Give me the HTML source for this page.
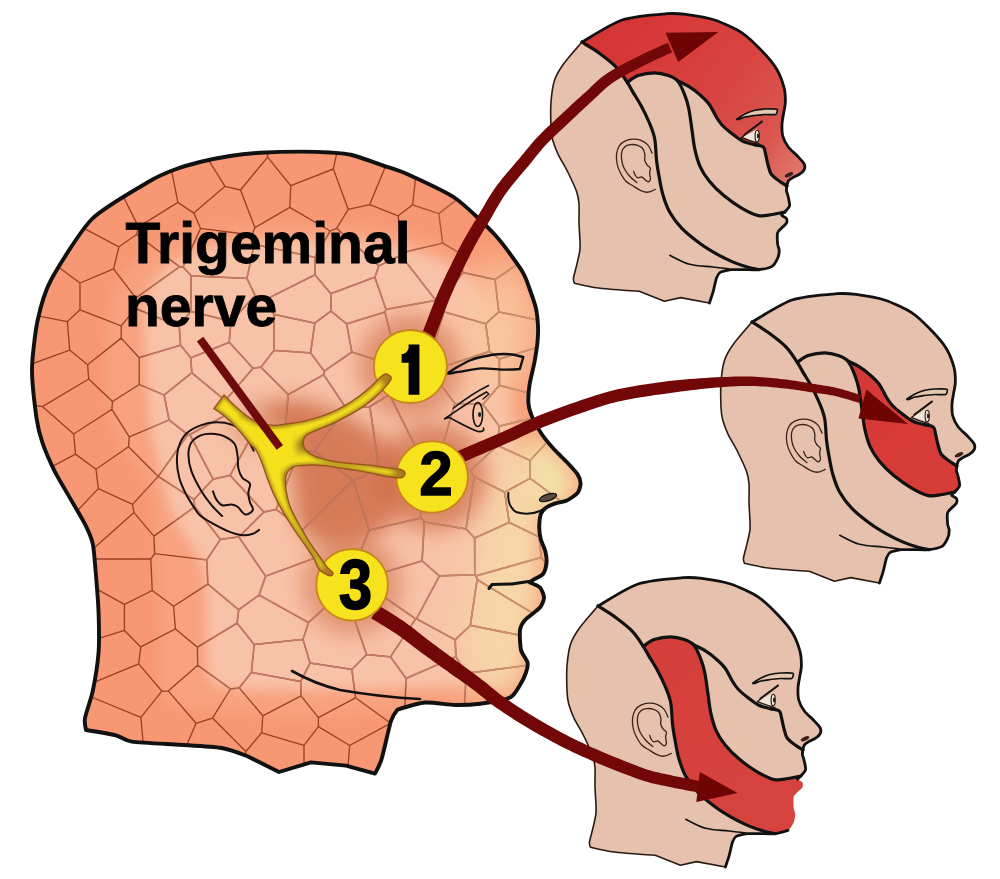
<!DOCTYPE html>
<html><head><meta charset="utf-8"><style>
html,body{margin:0;padding:0;background:#fff;}
svg{display:block;}
</style></head><body>
<svg width="1000" height="879" viewBox="0 0 1000 879">
<defs>
<clipPath id="hc"><path d="M150.0,181.0C159.7,175.2 169.2,171.7 175.0,169.5C180.8,167.3 193.6,163.6 200.0,162.0C206.4,160.4 223.0,157.1 230.0,156.0C237.0,154.9 251.8,153.3 260.0,152.8C268.2,152.3 291.8,151.6 300.0,151.6C308.2,151.6 323.9,152.1 330.0,152.5C336.1,152.9 345.7,153.4 352.0,155.0C358.3,156.6 377.6,163.6 384.0,165.8C390.4,168.0 398.7,170.2 407.0,174.0C415.3,177.8 444.6,190.8 455.0,198.0C465.4,205.2 488.2,227.5 496.0,236.0C503.8,244.5 518.0,264.7 522.0,271.0C526.0,277.3 528.4,285.6 530.0,290.0C531.6,294.4 535.1,304.5 536.0,308.7C536.9,312.9 537.8,322.1 538.0,326.0C538.2,329.9 537.9,337.8 537.5,342.0C537.1,346.2 535.4,357.0 534.5,362.0C533.6,367.0 530.2,380.1 529.5,385.0C528.8,389.9 528.1,400.0 528.5,404.0C528.9,408.0 531.4,415.4 533.0,419.0C534.6,422.6 539.5,430.9 542.0,434.5C544.5,438.1 551.6,446.6 554.5,449.8C557.4,453.0 564.1,459.1 566.8,462.0C569.5,464.9 576.0,471.9 577.6,474.4C579.2,476.9 580.6,481.4 580.6,483.6C580.6,485.8 579.2,490.9 577.6,492.9C576.0,494.9 569.5,499.3 566.8,500.5C564.1,501.7 557.0,502.7 554.5,503.6C552.0,504.5 546.9,506.9 545.3,508.2C543.7,509.5 541.4,512.2 540.7,514.4C540.0,516.6 539.2,523.8 539.2,526.7C539.2,529.6 540.0,536.0 540.7,538.9C541.4,541.8 544.6,548.4 545.3,551.2C546.0,554.0 546.8,560.3 546.5,563.0C546.2,565.7 544.6,572.0 543.0,574.0C541.4,576.0 534.5,579.0 533.0,580.0C531.5,581.0 530.0,582.5 530.0,582.5C530.0,582.5 538.4,585.8 540.0,587.5C541.6,589.2 544.0,595.2 544.0,597.5C544.0,599.8 542.2,604.9 540.0,607.5C537.8,610.1 527.3,617.4 525.0,620.0C522.7,622.6 520.5,626.5 520.0,630.0C519.5,633.5 520.1,646.2 521.0,650.0C521.9,653.8 526.9,659.9 527.5,662.5C528.1,665.1 526.9,669.9 526.0,672.5C525.1,675.1 521.9,682.1 520.0,685.0C518.1,687.9 514.7,695.3 510.0,697.5C505.3,699.7 486.4,702.9 480.0,703.8C473.6,704.6 461.4,705.1 455.0,705.0C448.6,704.9 431.7,702.0 425.0,702.5C418.3,703.0 397.6,709.6 397.6,709.6C397.6,709.6 392.9,715.2 391.0,721.0C389.1,726.8 383.5,752.9 381.6,759.0C379.7,765.1 375.0,773.6 375.0,773.6C375.0,773.6 346.0,765.6 346.0,765.6C346.0,765.6 311.0,762.4 311.0,762.4C311.0,762.4 279.0,772.0 279.0,772.0C279.0,772.0 247.0,756.0 247.0,756.0C247.0,756.0 229.4,749.3 221.6,748.0C213.8,746.7 190.5,745.5 180.0,744.8C169.5,744.1 139.5,742.7 132.0,741.6C124.5,740.5 121.4,736.7 116.0,735.3C110.6,733.9 86.0,730.0 86.0,730.0C86.0,730.0 84.2,722.6 85.0,718.0C85.8,713.4 91.2,698.5 92.8,690.8C94.4,683.1 97.9,661.0 98.6,652.0C99.3,643.0 98.9,622.4 98.6,613.4C98.3,604.4 96.6,582.8 95.9,574.7C95.2,566.6 94.1,549.7 92.8,543.8C91.5,537.9 87.8,529.8 85.1,524.4C82.4,519.0 73.2,503.7 69.6,497.4C66.0,491.1 57.4,476.6 54.2,470.3C51.1,464.0 44.7,449.3 42.6,443.2C40.5,437.1 37.7,426.7 36.5,418.0C35.3,409.3 31.9,380.3 32.0,369.0C32.1,357.7 35.3,331.4 37.5,321.0C39.7,310.6 44.6,291.9 51.0,280.0C57.4,268.1 80.5,230.6 92.0,219.0C103.5,207.4 140.3,186.8 150.0,181.0Z"/></clipPath>
<clipPath id="nc"><path d="M224.1,395.0C224.1,395.0 232.5,403.8 236.4,407.3C240.3,410.8 246.1,415.7 250.0,418.2C253.9,420.7 258.6,422.6 262.3,423.7C266.1,424.8 271.1,425.5 275.0,425.5C278.9,425.5 284.2,424.2 288.0,423.7C291.8,423.2 296.0,422.9 300.0,422.1C304.0,421.3 310.4,419.7 314.8,418.4C319.2,417.1 325.2,415.1 329.6,413.2C334.0,411.3 340.0,408.4 344.4,405.8C348.8,403.2 355.1,399.1 359.1,396.2C363.1,393.3 367.9,389.4 371.0,386.6C374.1,383.8 377.6,379.6 379.8,377.7C382.0,375.8 384.0,374.1 385.7,374.0C387.4,373.9 390.2,376.0 390.9,377.0C391.6,378.0 391.2,379.0 390.2,380.7C389.2,382.4 386.7,385.4 384.3,388.1C381.9,390.8 377.2,395.5 373.9,398.4C370.6,401.3 366.5,404.4 362.1,407.3C357.7,410.2 349.3,415.0 344.4,417.7C339.5,420.4 334.0,423.0 329.6,425.0C325.2,427.0 318.4,429.4 314.8,431.0C311.2,432.6 307.7,433.6 305.9,435.4C304.1,437.2 303.0,440.6 303.0,442.8C303.0,445.0 304.1,448.2 305.9,450.2C307.7,452.2 311.2,454.6 314.8,456.1C318.4,457.6 325.2,459.5 329.6,460.5C334.0,461.5 340.0,462.2 344.4,462.8C348.8,463.4 354.7,463.8 359.1,464.2C363.5,464.6 369.5,465.1 373.9,465.7C378.3,466.3 384.7,467.3 388.7,467.9C392.7,468.5 398.1,468.6 400.5,469.4C402.9,470.2 404.8,471.9 405.0,473.1C405.2,474.3 404.4,476.9 402.0,477.5C399.6,478.1 392.9,477.4 388.7,476.8C384.5,476.2 378.3,474.7 373.9,473.8C369.5,472.9 363.5,471.7 359.1,470.9C354.7,470.1 348.8,469.4 344.4,468.7C340.0,468.0 334.0,467.0 329.6,466.4C325.2,465.8 318.9,465.1 314.8,465.0C310.7,464.9 305.3,465.2 302.0,465.5C298.7,465.8 295.2,466.0 293.0,467.0C290.8,468.0 288.6,470.1 287.5,472.0C286.4,473.9 285.7,477.3 285.5,480.0C285.3,482.7 285.3,486.1 286.0,490.0C286.7,493.9 288.1,501.1 290.0,506.2C291.9,511.3 295.9,518.7 298.8,524.0C301.7,529.3 306.1,536.8 309.2,541.7C312.3,546.6 316.8,552.7 319.5,556.5C322.2,560.3 324.9,564.5 326.9,566.9C328.9,569.3 332.4,571.5 332.8,572.8C333.2,574.1 331.9,576.2 329.9,575.7C327.9,575.2 321.9,572.5 319.5,569.8C317.1,567.1 315.8,561.8 313.6,558.0C311.4,554.2 307.6,548.9 304.7,544.7C301.8,540.5 297.5,534.6 294.4,529.9C291.3,525.2 286.9,518.5 284.0,513.6C281.1,508.7 277.5,502.4 275.1,497.3C272.7,492.2 269.8,484.7 267.8,479.6C265.8,474.5 263.8,467.4 262.0,463.0C260.2,458.6 257.8,452.9 256.0,450.0C254.2,447.1 252.5,446.9 250.0,444.0C247.5,441.1 242.8,434.6 239.1,430.5C235.4,426.4 229.3,420.2 225.5,416.9C221.7,413.6 213.9,408.7 213.9,408.7C213.9,408.7 224.1,395.0 224.1,395.0Z"/></clipPath>
<filter id="b2" x="-50%" y="-50%" width="200%" height="200%"><feGaussianBlur stdDeviation="2"/></filter>
<filter id="b6" x="-50%" y="-50%" width="200%" height="200%"><feGaussianBlur stdDeviation="6"/></filter>
<filter id="b15" x="-50%" y="-50%" width="200%" height="200%"><feGaussianBlur stdDeviation="1.5"/></filter>
<filter id="b3" x="-50%" y="-50%" width="200%" height="200%"><feGaussianBlur stdDeviation="3"/></filter>
<mask id="innm" maskUnits="userSpaceOnUse" x="0" y="0" width="1000" height="879"><path d="M145.0,300.0C148.7,284.3 157.2,274.7 168.0,266.0C178.8,257.3 194.7,252.0 210.0,248.0C225.3,244.0 241.7,243.3 260.0,242.0C278.3,240.7 300.0,239.7 320.0,240.0C340.0,240.3 361.7,241.3 380.0,244.0C398.3,246.7 415.8,250.8 430.0,256.0C444.2,261.2 455.0,266.8 465.0,275.0C475.0,283.2 484.2,294.2 490.0,305.0C495.8,315.8 497.5,327.5 500.0,340.0C502.5,352.5 502.5,361.7 505.0,380.0C507.5,398.3 510.8,426.7 515.0,450.0C519.2,473.3 528.3,495.0 530.0,520.0C531.7,545.0 528.3,574.2 525.0,600.0C521.7,625.8 522.5,660.7 510.0,675.0C497.5,689.3 468.3,683.8 450.0,686.0C431.7,688.2 420.0,687.3 400.0,688.0C380.0,688.7 353.3,689.7 330.0,690.0C306.7,690.3 279.2,691.0 260.0,690.0C240.8,689.0 223.8,689.0 215.0,684.0C206.2,679.0 208.5,674.0 207.0,660.0C205.5,646.0 207.2,616.7 206.0,600.0C204.8,583.3 205.2,573.3 200.0,560.0C194.8,546.7 181.7,535.0 175.0,520.0C168.3,505.0 164.2,486.7 160.0,470.0C155.8,453.3 152.3,438.3 150.0,420.0C147.7,401.7 146.8,380.0 146.0,360.0C145.2,340.0 141.3,315.7 145.0,300.0Z" fill="#fff" filter="url(#b6)"/></mask>
<linearGradient id="facegr" gradientUnits="userSpaceOnUse" x1="400" y1="0" x2="520" y2="0"><stop offset="0" stop-color="#000"/><stop offset="1" stop-color="#fff"/></linearGradient>
<mask id="facem" maskUnits="userSpaceOnUse" x="0" y="0" width="1000" height="879"><rect x="0" y="0" width="1000" height="879" fill="url(#facegr)"/></mask>
<linearGradient id="cellg" gradientUnits="userSpaceOnUse" x1="380" y1="0" x2="520" y2="0"><stop offset="0" stop-color="#8E3018"/><stop offset="1" stop-color="#C4855C"/></linearGradient>
<filter id="b20" x="-50%" y="-50%" width="200%" height="200%"><feGaussianBlur stdDeviation="20"/></filter>
<filter id="b10" x="-50%" y="-50%" width="200%" height="200%"><feGaussianBlur stdDeviation="10"/></filter>
<filter id="b30" x="-50%" y="-50%" width="200%" height="200%"><feGaussianBlur stdDeviation="30"/></filter>
<linearGradient id="redg1" gradientUnits="userSpaceOnUse" x1="610" y1="40" x2="800" y2="175"><stop offset="0" stop-color="#D53535"/><stop offset="0.5" stop-color="#D8433F"/><stop offset="0.8" stop-color="#DA5550"/><stop offset="1" stop-color="#DE7A6C"/></linearGradient>
<linearGradient id="redg2" gradientUnits="userSpaceOnUse" x1="680" y1="80" x2="790" y2="210"><stop offset="0" stop-color="#D53937"/><stop offset="1" stop-color="#D63C38"/></linearGradient>
<linearGradient id="redg3" gradientUnits="userSpaceOnUse" x1="630" y1="80" x2="790" y2="260"><stop offset="0" stop-color="#D53F3B"/><stop offset="1" stop-color="#D6433E"/></linearGradient>
</defs>
<rect width="1000" height="879" fill="#fff"/>

<g clip-path="url(#hc)">
<path d="M150.0,181.0C159.7,175.2 169.2,171.7 175.0,169.5C180.8,167.3 193.6,163.6 200.0,162.0C206.4,160.4 223.0,157.1 230.0,156.0C237.0,154.9 251.8,153.3 260.0,152.8C268.2,152.3 291.8,151.6 300.0,151.6C308.2,151.6 323.9,152.1 330.0,152.5C336.1,152.9 345.7,153.4 352.0,155.0C358.3,156.6 377.6,163.6 384.0,165.8C390.4,168.0 398.7,170.2 407.0,174.0C415.3,177.8 444.6,190.8 455.0,198.0C465.4,205.2 488.2,227.5 496.0,236.0C503.8,244.5 518.0,264.7 522.0,271.0C526.0,277.3 528.4,285.6 530.0,290.0C531.6,294.4 535.1,304.5 536.0,308.7C536.9,312.9 537.8,322.1 538.0,326.0C538.2,329.9 537.9,337.8 537.5,342.0C537.1,346.2 535.4,357.0 534.5,362.0C533.6,367.0 530.2,380.1 529.5,385.0C528.8,389.9 528.1,400.0 528.5,404.0C528.9,408.0 531.4,415.4 533.0,419.0C534.6,422.6 539.5,430.9 542.0,434.5C544.5,438.1 551.6,446.6 554.5,449.8C557.4,453.0 564.1,459.1 566.8,462.0C569.5,464.9 576.0,471.9 577.6,474.4C579.2,476.9 580.6,481.4 580.6,483.6C580.6,485.8 579.2,490.9 577.6,492.9C576.0,494.9 569.5,499.3 566.8,500.5C564.1,501.7 557.0,502.7 554.5,503.6C552.0,504.5 546.9,506.9 545.3,508.2C543.7,509.5 541.4,512.2 540.7,514.4C540.0,516.6 539.2,523.8 539.2,526.7C539.2,529.6 540.0,536.0 540.7,538.9C541.4,541.8 544.6,548.4 545.3,551.2C546.0,554.0 546.8,560.3 546.5,563.0C546.2,565.7 544.6,572.0 543.0,574.0C541.4,576.0 534.5,579.0 533.0,580.0C531.5,581.0 530.0,582.5 530.0,582.5C530.0,582.5 538.4,585.8 540.0,587.5C541.6,589.2 544.0,595.2 544.0,597.5C544.0,599.8 542.2,604.9 540.0,607.5C537.8,610.1 527.3,617.4 525.0,620.0C522.7,622.6 520.5,626.5 520.0,630.0C519.5,633.5 520.1,646.2 521.0,650.0C521.9,653.8 526.9,659.9 527.5,662.5C528.1,665.1 526.9,669.9 526.0,672.5C525.1,675.1 521.9,682.1 520.0,685.0C518.1,687.9 514.7,695.3 510.0,697.5C505.3,699.7 486.4,702.9 480.0,703.8C473.6,704.6 461.4,705.1 455.0,705.0C448.6,704.9 431.7,702.0 425.0,702.5C418.3,703.0 397.6,709.6 397.6,709.6C397.6,709.6 392.9,715.2 391.0,721.0C389.1,726.8 383.5,752.9 381.6,759.0C379.7,765.1 375.0,773.6 375.0,773.6C375.0,773.6 346.0,765.6 346.0,765.6C346.0,765.6 311.0,762.4 311.0,762.4C311.0,762.4 279.0,772.0 279.0,772.0C279.0,772.0 247.0,756.0 247.0,756.0C247.0,756.0 229.4,749.3 221.6,748.0C213.8,746.7 190.5,745.5 180.0,744.8C169.5,744.1 139.5,742.7 132.0,741.6C124.5,740.5 121.4,736.7 116.0,735.3C110.6,733.9 86.0,730.0 86.0,730.0C86.0,730.0 84.2,722.6 85.0,718.0C85.8,713.4 91.2,698.5 92.8,690.8C94.4,683.1 97.9,661.0 98.6,652.0C99.3,643.0 98.9,622.4 98.6,613.4C98.3,604.4 96.6,582.8 95.9,574.7C95.2,566.6 94.1,549.7 92.8,543.8C91.5,537.9 87.8,529.8 85.1,524.4C82.4,519.0 73.2,503.7 69.6,497.4C66.0,491.1 57.4,476.6 54.2,470.3C51.1,464.0 44.7,449.3 42.6,443.2C40.5,437.1 37.7,426.7 36.5,418.0C35.3,409.3 31.9,380.3 32.0,369.0C32.1,357.7 35.3,331.4 37.5,321.0C39.7,310.6 44.6,291.9 51.0,280.0C57.4,268.1 80.5,230.6 92.0,219.0C103.5,207.4 140.3,186.8 150.0,181.0Z" fill="#F79773"/>
<path d="M112.0,300.0C116.8,280.3 123.7,272.7 135.0,262.0C146.3,251.3 162.5,242.0 180.0,236.0C197.5,230.0 220.0,228.0 240.0,226.0C260.0,224.0 280.0,224.0 300.0,224.0C320.0,224.0 340.0,224.0 360.0,226.0C380.0,228.0 403.3,231.0 420.0,236.0C436.7,241.0 448.3,247.0 460.0,256.0C471.7,265.0 482.5,277.7 490.0,290.0C497.5,302.3 501.3,311.7 505.0,330.0C508.7,348.3 507.8,375.0 512.0,400.0C516.2,425.0 527.0,446.7 530.0,480.0C533.0,513.3 532.5,565.0 530.0,600.0C527.5,635.0 528.3,672.5 515.0,690.0C501.7,707.5 469.2,701.3 450.0,705.0C430.8,708.7 425.0,709.8 400.0,712.0C375.0,714.2 330.0,718.0 300.0,718.0C270.0,718.0 242.5,715.0 220.0,712.0C197.5,709.0 175.3,712.0 165.0,700.0C154.7,688.0 159.5,663.3 158.0,640.0C156.5,616.7 157.3,585.0 156.0,560.0C154.7,535.0 156.3,510.0 150.0,490.0C143.7,470.0 125.3,458.3 118.0,440.0C110.7,421.7 107.0,403.3 106.0,380.0C105.0,356.7 107.2,319.7 112.0,300.0Z" fill="#F8A27F" filter="url(#b6)"/>
<path d="M145.0,300.0C148.7,284.3 157.2,274.7 168.0,266.0C178.8,257.3 194.7,252.0 210.0,248.0C225.3,244.0 241.7,243.3 260.0,242.0C278.3,240.7 300.0,239.7 320.0,240.0C340.0,240.3 361.7,241.3 380.0,244.0C398.3,246.7 415.8,250.8 430.0,256.0C444.2,261.2 455.0,266.8 465.0,275.0C475.0,283.2 484.2,294.2 490.0,305.0C495.8,315.8 497.5,327.5 500.0,340.0C502.5,352.5 502.5,361.7 505.0,380.0C507.5,398.3 510.8,426.7 515.0,450.0C519.2,473.3 528.3,495.0 530.0,520.0C531.7,545.0 528.3,574.2 525.0,600.0C521.7,625.8 522.5,660.7 510.0,675.0C497.5,689.3 468.3,683.8 450.0,686.0C431.7,688.2 420.0,687.3 400.0,688.0C380.0,688.7 353.3,689.7 330.0,690.0C306.7,690.3 279.2,691.0 260.0,690.0C240.8,689.0 223.8,689.0 215.0,684.0C206.2,679.0 208.5,674.0 207.0,660.0C205.5,646.0 207.2,616.7 206.0,600.0C204.8,583.3 205.2,573.3 200.0,560.0C194.8,546.7 181.7,535.0 175.0,520.0C168.3,505.0 164.2,486.7 160.0,470.0C155.8,453.3 152.3,438.3 150.0,420.0C147.7,401.7 146.8,380.0 146.0,360.0C145.2,340.0 141.3,315.7 145.0,300.0Z" fill="#F8C2A8" filter="url(#b6)"/>
<ellipse cx="500" cy="330" rx="38" ry="70" fill="#F9C69E" filter="url(#b20)"/>
<path d="M520.0,430.0C527.5,423.3 535.0,431.7 545.0,440.0C555.0,448.3 575.8,469.2 580.0,480.0C584.2,490.8 575.8,499.2 570.0,505.0C564.2,510.8 550.0,505.8 545.0,515.0C540.0,524.2 540.0,545.8 540.0,560.0C540.0,574.2 547.5,586.7 545.0,600.0C542.5,613.3 528.3,626.7 525.0,640.0C521.7,653.3 530.8,670.0 525.0,680.0C519.2,690.0 499.2,705.0 490.0,700.0C480.8,695.0 471.7,673.3 470.0,650.0C468.3,626.7 475.0,588.3 480.0,560.0C485.0,531.7 493.3,501.7 500.0,480.0C506.7,458.3 512.5,436.7 520.0,430.0Z" fill="#F6D9A8" filter="url(#b20)"/>
<path d="M535.0,445.0C541.7,446.3 565.8,468.8 570.0,478.0C574.2,487.2 565.0,495.5 560.0,500.0C555.0,504.5 545.0,510.0 540.0,505.0C535.0,500.0 530.8,480.0 530.0,470.0C529.2,460.0 528.3,443.7 535.0,445.0Z" fill="#F3E0A8" filter="url(#b10)"/>
<circle cx="410" cy="366" r="52" fill="#CF6A45" opacity="0.55" filter="url(#b10)"/>
<circle cx="432" cy="477" r="54" fill="#CF6A45" opacity="0.68" filter="url(#b10)"/>
<circle cx="352" cy="585" r="50" fill="#CF6A45" opacity="0.5" filter="url(#b10)"/>
<path d="M262.0,408.0C265.3,401.3 286.2,398.8 300.0,400.0C313.8,401.2 330.0,407.5 345.0,415.0C360.0,422.5 380.0,434.2 390.0,445.0C400.0,455.8 405.0,466.7 405.0,480.0C405.0,493.3 400.0,514.2 390.0,525.0C380.0,535.8 359.7,543.8 345.0,545.0C330.3,546.2 310.8,542.8 302.0,532.0C293.2,521.2 295.7,495.3 292.0,480.0C288.3,464.7 285.0,452.0 280.0,440.0C275.0,428.0 258.7,414.7 262.0,408.0Z" fill="#CE6A45" opacity="0.8" filter="url(#b10)"/>
<ellipse cx="255" cy="425" rx="28" ry="22" fill="#D98A6A" opacity="0.5" filter="url(#b10)"/>
<defs><path id="vorp" d="M299.5,450.9L284.4,438.7M299.5,450.9L276.1,509.3M284.4,438.7L251.3,436.7M276.1,509.3L263.9,512.0M263.9,512.0L230.1,475.3M251.3,436.7L230.1,475.3M348.7,578.2L315.9,557.7M348.7,578.2L344.2,589.8M344.2,589.8L308.5,622.6M315.9,557.7L265.6,576.2M308.5,622.6L259.1,595.0M265.6,576.2L259.1,595.0M349.9,577.7L359.2,579.8M415.7,618.9L359.2,579.8M366.6,654.5L390.5,656.9M415.7,618.9L390.5,656.9M349.9,577.7L348.7,578.2M366.6,654.5L344.2,589.8M263.9,512.0L238.8,536.9M238.8,536.9L265.6,576.2M276.1,509.3L302.5,529.9M302.5,529.9L315.9,557.7M327.5,127.3L327.5,67.5M327.5,127.3L282.5,125.6M282.5,125.6L282.5,67.5M327.5,67.5L282.5,67.5M417.5,67.5L372.5,67.5M417.5,67.5L417.5,112.5M372.5,112.5L417.5,112.5M372.5,112.5L372.5,67.5M327.5,67.5L372.5,67.5M282.5,67.5L237.5,67.5M415.7,618.9L416.5,618.8M422.1,560.9L359.2,579.8M422.1,560.9L439.5,575.9M416.5,618.8L439.5,575.9M454.3,165.7L417.5,162.3M454.3,165.7L462.1,195.6M462.1,195.6L438.8,213.6M417.5,162.3L417.3,162.4M417.3,162.4L412.6,204.9M412.6,204.9L438.8,213.6M442.7,243.2L438.8,213.6M442.7,243.2L402.3,252.7M412.6,204.9L398.2,215.8M398.2,215.8L402.3,252.7M374.8,277.2L378.9,265.9M374.8,277.2L386.0,309.4M386.0,309.4L435.9,300.4M435.9,300.4L400.8,255.3M378.9,265.9L400.8,255.3M336.6,228.3L378.9,265.9M314.9,274.8L330.9,293.7M330.9,293.7L374.8,277.2M314.9,274.8L314.9,257.3M336.6,228.3L330.2,231.0M314.9,257.3L330.2,231.0M238.7,609.8L259.1,595.0M238.7,609.8L237.1,623.2M303.0,639.4L254.2,644.5M303.0,639.4L308.5,622.6M237.1,623.2L254.2,644.5M238.7,609.8L207.8,584.1M207.8,584.1L206.8,559.8M238.8,536.9L220.4,539.4M220.4,539.4L206.8,559.8M213.1,479.1L230.1,475.3M194.0,499.5L213.1,479.1M194.0,499.5L194.8,506.8M220.4,539.4L194.8,506.8M299.5,450.9L314.4,450.9M302.5,529.9L352.8,480.4M314.4,450.9L352.8,480.4M303.0,639.4L310.0,663.0M366.6,654.5L351.9,669.4M351.9,669.4L310.0,663.0M251.4,672.4L254.2,644.5M251.4,672.4L300.7,681.5M300.7,681.5L310.0,663.0M355.5,697.8L351.9,669.4M390.5,656.9L406.1,678.4M390.7,723.2L355.5,697.8M390.7,723.2L404.1,724.9M406.1,678.4L404.1,724.9M455.2,639.8L416.5,618.8M455.2,639.8L455.9,656.8M406.1,678.4L455.9,656.8M-32.5,202.5L-32.5,247.5M-32.5,202.5L12.5,202.5M12.5,202.5L12.5,247.5M12.5,247.5L-32.5,247.5M237.5,67.5L192.5,67.5M72.4,646.7L124.4,630.4M72.4,646.7L66.2,607.5M66.2,607.5L80.1,579.9M80.1,579.9L124.4,604.4M124.4,630.4L124.4,604.4M-32.5,292.5L-32.5,337.5M-32.5,247.5L-32.5,292.5M18.8,292.5L-32.5,292.5M24.3,313.3L18.8,292.5M14.1,337.5L-32.5,337.5M24.3,313.3L14.1,337.5M12.5,247.5L30.4,265.4M18.8,292.5L30.4,265.4M-32.5,427.5L-32.5,382.5M-32.5,472.5L-32.5,427.5M-32.5,337.5L-32.5,382.5M17.0,427.5L-32.5,427.5M21.8,472.5L-32.5,472.5M21.8,472.5L17.0,427.5M27.9,479.3L75.5,454.1M31.0,499.0L27.9,479.3M96.0,469.2L75.5,454.1M96.0,469.2L98.3,488.6M31.0,499.0L68.0,520.7M68.0,520.7L98.3,488.6M-32.5,832.5L-32.5,787.5M12.5,202.5L12.5,157.5M12.5,157.5L-32.5,157.5M-32.5,202.5L-32.5,157.5M597.5,832.5L552.5,832.5M532.8,637.8L538.2,616.4M532.8,637.8L470.3,625.4M538.2,616.4L477.1,579.6M470.3,625.4L477.1,579.6M642.5,787.5L642.5,832.5M642.5,787.5L687.5,787.5M642.5,832.5L687.5,832.5M687.5,832.5L687.5,787.5M597.5,787.5L642.5,787.5M597.5,832.5L642.5,832.5M597.5,832.5L597.5,787.5M597.5,742.5L597.5,787.5M597.5,742.5L642.5,742.5M642.5,742.5L642.5,787.5M687.5,742.5L687.5,697.5M687.5,787.5L687.5,742.5M642.5,742.5L687.5,742.5M330.9,293.7L330.9,311.1M384.9,312.1L346.7,323.9M386.0,309.4L384.9,312.1M346.7,323.9L330.9,311.1M369.7,204.6L348.3,209.4M369.7,204.6L387.4,161.7M348.3,209.4L333.3,169.0M333.3,169.0L340.6,135.8M387.4,161.7L350.8,134.2M350.8,134.2L340.6,135.8M400.8,255.3L402.3,252.7M336.6,228.3L348.3,209.4M398.2,215.8L369.7,204.6M417.3,162.4L387.4,161.7M330.2,231.0L289.8,207.4M290.8,185.7L289.8,207.4M290.8,185.7L333.3,169.0M372.5,112.5L350.8,134.2M417.5,112.5L417.5,162.3M327.5,127.3L340.6,135.8M330.9,311.1L314.8,323.1M314.8,323.1L273.9,314.4M314.9,274.8L264.6,300.0M273.9,314.4L264.6,300.0M231.0,321.3L229.2,342.3M229.2,342.3L190.8,357.9M179.2,326.1L190.7,311.4M231.0,321.3L190.7,311.4M179.2,326.1L180.6,345.2M180.6,345.2L190.8,357.9M597.5,562.5L597.5,607.5M545.2,562.5L597.5,562.5M544.9,607.5L597.5,607.5M544.9,607.5L545.2,562.5M458.5,252.4L442.7,243.2M458.5,252.4L463.0,272.5M435.9,300.4L440.6,302.3M440.6,302.3L463.0,272.5M124.4,630.4L140.8,646.9M70.8,652.5L72.4,646.7M70.8,652.5L81.2,687.7M81.2,687.7L138.7,663.9M140.8,646.9L138.7,663.9M152.2,590.5L124.4,604.4M173.6,606.2L152.2,590.5M173.6,606.2L175.4,628.9M140.8,646.9L175.4,628.9M80.4,692.5L140.9,717.3M80.4,692.5L81.2,687.7M140.9,717.3L161.9,691.2M138.7,663.9L161.9,691.2M173.6,606.2L207.8,584.1M237.1,623.2L197.4,647.2M175.4,628.9L197.4,647.2M150.8,559.0L81.8,559.0M150.8,559.0L154.6,553.6M154.6,553.6L153.9,536.1M153.9,536.1L134.0,512.6M134.0,512.6L81.8,559.0M80.1,559.5L81.8,559.0M78.8,562.5L80.1,559.5M78.8,562.5L80.1,579.9M152.2,590.5L150.8,559.0M206.8,559.8L154.6,553.6M194.8,506.8L153.9,536.1M80.1,559.5L68.0,520.7M98.3,488.6L132.6,504.4M132.6,504.4L134.0,512.6M422.6,466.9L421.1,517.8M422.6,466.9L379.0,468.0M421.1,517.8L369.1,530.1M369.1,530.1L353.6,480.6M353.6,480.6L379.0,468.0M466.0,529.0L474.2,476.9M466.0,529.0L424.3,521.8M424.3,521.8L421.1,517.8M438.3,460.1L424.7,465.1M424.7,465.1L422.6,466.9M470.2,470.7L474.2,476.9M470.2,470.7L438.3,460.1M422.1,560.9L424.3,521.8M349.9,577.7L369.1,530.1M352.8,480.4L353.6,480.6M372.5,832.5L327.5,832.5M403.0,773.0L372.5,788.9M417.5,787.5L403.0,773.0M372.5,788.9L372.5,832.5M417.5,832.5L372.5,832.5M417.5,787.5L417.5,832.5M327.5,832.5L327.5,787.2M372.5,788.9L346.9,780.0M327.5,787.2L346.9,780.0M407.1,727.6L404.1,724.9M403.0,773.0L407.1,727.6M390.7,723.2L349.7,745.5M346.9,780.0L349.7,745.5M455.2,639.8L470.3,625.4M536.3,652.5L532.7,664.6M532.8,637.8L536.3,652.5M455.9,656.8L466.2,673.3M466.2,673.3L532.7,664.6M282.5,125.6L266.7,134.8M237.5,67.5L237.5,124.5M237.5,124.5L266.7,134.8M254.9,227.6L240.5,190.0M289.8,207.4L254.9,227.6M290.8,185.7L267.6,157.1M267.6,157.1L240.5,190.0M267.6,157.1L266.7,134.8M200.6,228.4L252.0,235.0M200.6,228.4L183.1,267.0M183.1,267.0L191.2,275.8M191.2,275.8L246.9,278.4M246.9,278.4L254.2,244.4M254.2,244.4L252.0,235.0M240.5,190.0L225.0,186.3M193.8,213.1L225.0,186.3M193.8,213.1L200.6,228.4M254.9,227.6L252.0,235.0M190.7,311.4L191.2,275.8M231.0,321.3L255.2,295.6M255.2,295.6L246.9,278.4M264.6,300.0L255.2,295.6M314.9,257.3L254.2,244.4M57.5,112.5L102.5,112.5M57.5,112.5L57.5,67.5M102.5,112.5L102.5,67.5M57.5,67.5L102.5,67.5M102.5,67.5L147.5,67.5M192.5,67.5L147.5,67.5M12.5,652.5L-32.5,652.5M12.5,652.5L12.5,607.5M12.5,607.5L-32.5,607.5M-32.5,652.5L-32.5,607.5M70.8,652.5L12.5,652.5M66.2,607.5L12.5,607.5M12.5,517.5L12.5,562.5M12.5,562.5L-32.5,562.5M12.5,517.5L-32.5,517.5M-32.5,562.5L-32.5,517.5M31.0,499.0L12.5,517.5M78.8,562.5L12.5,562.5M-32.5,607.5L-32.5,562.5M12.5,607.5L12.5,562.5M27.9,479.3L21.8,472.5M-32.5,472.5L-32.5,517.5M-32.5,742.5L-32.5,697.5M-32.5,697.5L12.5,697.5M-32.5,652.5L-32.5,697.5M12.5,652.5L12.5,697.5M-32.5,787.5L-32.5,742.5M80.4,692.5L77.0,697.5M77.0,697.5L12.5,697.5M-32.5,742.5L12.5,742.5M12.5,697.5L12.5,742.5M12.5,157.5L12.5,112.5M-32.5,157.5L-32.5,112.5M-32.5,112.5L12.5,112.5M532.7,664.6L535.6,680.6M535.6,680.6L492.4,727.4M466.2,673.3L463.5,722.9M492.4,727.4L463.5,722.9M407.1,727.6L462.5,723.5M462.5,723.5L463.5,722.9M642.5,697.5L597.5,697.5M642.5,742.5L642.5,697.5M597.5,742.5L597.5,697.5M597.5,652.5L597.5,697.5M552.5,697.5L597.5,697.5M536.3,652.5L597.5,652.5M552.5,697.5L535.6,680.6M687.5,697.5L642.5,697.5M597.5,607.5L597.5,652.5M544.9,607.5L538.2,616.4M273.9,314.4L274.0,350.3M314.8,323.1L310.6,352.9M310.6,352.9L274.0,350.3M229.2,342.3L253.0,368.3M253.0,368.3L260.9,367.2M260.9,367.2L274.0,350.3M351.8,352.1L324.2,371.1M351.8,352.1L398.9,366.9M346.2,408.4L369.8,406.6M346.2,408.4L323.7,374.7M323.7,374.7L324.2,371.1M369.8,406.6L389.5,394.7M389.5,394.7L403.7,371.8M398.9,366.9L403.7,371.8M346.7,323.9L351.8,352.1M310.6,352.9L324.2,371.1M384.9,312.1L398.9,366.9M314.4,450.9L346.2,408.4M379.0,468.0L369.8,406.6M284.4,438.7L288.2,394.6M288.2,394.6L323.7,374.7M288.2,394.6L260.9,367.2M424.7,465.1L389.5,394.7M49.3,260.3L30.4,265.4M49.3,260.3L80.0,283.0M24.3,313.3L67.4,321.6M67.4,321.6L80.0,309.8M80.0,283.0L80.0,309.8M541.4,557.4L539.0,536.9M541.4,557.4L476.1,575.9M539.0,536.9L509.2,522.4M509.2,522.4L474.6,538.1M474.6,538.1L474.8,574.6M474.8,574.6L476.1,575.9M545.2,562.5L541.4,557.4M579.3,499.3L597.5,517.5M597.5,517.5L597.5,562.5M579.3,499.3L564.3,503.8M564.3,503.8L539.0,536.9M477.1,579.6L476.1,575.9M530.1,478.3L504.7,492.2M530.1,478.3L564.3,503.8M504.7,492.2L509.2,522.4M474.2,476.9L504.7,492.2M466.0,529.0L474.6,538.1M439.5,575.9L474.8,574.6M489.5,351.5L430.0,370.8M489.5,351.5L485.7,323.8M485.7,323.8L443.8,311.8M443.8,311.8L426.9,369.0M426.9,369.0L430.0,370.8M498.8,311.9L495.0,279.5M498.8,311.9L485.7,323.8M440.6,302.3L443.8,311.8M463.0,272.5L495.0,279.5M403.7,371.8L426.9,369.0M454.9,403.4L438.3,460.1M454.9,403.4L430.0,370.8M230.5,689.0L197.7,665.2M230.5,689.0L212.5,718.1M212.5,718.1L196.1,723.3M196.1,723.3L168.2,690.9M197.7,665.2L168.2,690.9M239.2,687.9L230.5,689.0M239.2,687.9L251.4,672.4M197.4,647.2L197.7,665.2M140.9,717.3L145.0,765.4M177.5,766.6L196.1,723.3M147.5,766.7L177.5,766.6M161.9,691.2L168.2,690.9M147.5,766.7L145.0,765.4M318.4,717.7L301.0,695.9M318.4,717.7L318.4,726.7M318.4,726.7L304.0,745.4M304.0,745.4L261.7,732.8M301.0,695.9L262.8,715.8M262.8,715.8L261.7,732.8M355.5,697.8L318.4,717.7M300.7,681.5L301.0,695.9M349.7,745.5L318.4,726.7M304.0,776.6L304.0,745.4M304.0,776.6L327.5,787.2M282.5,787.1L241.5,773.3M245.9,751.5L241.5,773.3M304.0,776.6L282.5,787.1M245.9,751.5L261.7,732.8M239.2,687.9L262.8,715.8M245.9,751.5L212.5,718.1M102.5,157.5L57.5,157.5M57.5,202.5L57.5,157.5M57.5,202.5L70.6,215.6M70.6,215.6L115.6,181.3M102.5,157.5L117.6,172.6M117.6,172.6L115.6,181.3M102.5,112.5L102.5,157.5M57.5,112.5L57.5,157.5M12.5,157.5L57.5,157.5M12.5,202.5L57.5,202.5M49.3,260.3L71.3,221.7M71.3,221.7L70.6,215.6M57.5,112.5L12.5,112.5M67.4,321.6L69.7,350.1M14.1,337.5L24.8,366.5M69.7,350.1L24.8,366.5M-32.5,382.5L21.8,382.5M21.8,382.5L24.8,366.5M17.0,427.5L32.1,405.0M21.8,382.5L32.1,405.0M75.5,454.1L73.7,434.0M73.7,434.0L42.4,406.6M32.1,405.0L42.4,406.6M552.5,112.5L597.5,112.5M597.5,157.5L597.5,112.5M597.5,157.5L552.5,157.5M552.5,157.5L552.5,112.5M642.5,157.5L642.5,202.5M642.5,157.5L687.5,157.5M687.5,157.5L687.5,202.5M642.5,202.5L687.5,202.5M597.5,157.5L642.5,157.5M597.5,202.5L597.5,157.5M597.5,202.5L642.5,202.5M687.5,112.5L687.5,157.5M687.5,112.5L642.5,112.5M642.5,112.5L642.5,157.5M597.5,112.5L642.5,112.5M-32.5,832.5L12.5,832.5M-32.5,787.5L12.5,787.5M12.5,832.5L12.5,787.5M12.5,742.5L12.5,787.5M145.0,765.4L121.3,768.7M77.0,697.5L74.1,725.9M121.3,768.7L74.1,725.9M12.5,742.5L57.5,742.5M57.5,742.5L74.1,725.9M12.5,67.5L-32.5,67.5M57.5,67.5L12.5,67.5M-32.5,112.5L-32.5,67.5M12.5,112.5L12.5,67.5M597.5,787.5L552.5,787.5M597.5,742.5L552.5,742.5M552.5,787.5L552.5,742.5M552.5,697.5L552.5,742.5M507.5,742.5L552.5,742.5M492.4,727.4L507.5,742.5M552.5,832.5L552.5,787.5M507.5,787.5L462.5,787.5M507.5,787.5L507.5,832.5M462.5,832.5L507.5,832.5M462.5,832.5L462.5,787.5M462.5,723.5L462.5,787.5M507.5,742.5L507.5,787.5M552.5,832.5L507.5,832.5M552.5,787.5L507.5,787.5M417.5,832.5L462.5,832.5M417.5,787.5L462.5,787.5M113.6,268.9L135.8,298.0M113.6,268.9L118.9,246.8M136.6,234.5L118.9,246.8M136.6,234.5L179.6,266.8M179.6,266.8L135.8,298.0M80.0,309.8L121.3,325.9M135.4,308.5L121.3,325.9M135.4,308.5L135.8,298.0M80.0,283.0L113.6,268.9M71.3,221.7L118.9,246.8M138.5,226.9L115.6,181.3M138.5,226.9L136.6,234.5M183.1,267.0L179.6,266.8M193.8,213.1L177.9,202.4M177.9,202.4L138.5,226.9M179.2,326.1L135.4,308.5M132.6,504.4L158.2,476.4M194.0,499.5L158.2,476.4M158.2,476.4L158.2,476.4M96.0,469.2L128.5,446.7M158.2,476.4L128.5,446.7M73.7,434.0L111.9,409.3M111.9,409.3L129.3,436.9M128.5,446.7L129.3,436.9M139.2,384.5L112.5,401.5M139.2,384.5L139.2,357.7M139.2,357.7L121.2,338.1M121.2,338.1L87.6,364.7M112.5,401.5L88.7,379.0M88.7,379.0L87.6,364.7M180.6,345.2L139.2,357.7M121.3,325.9L121.2,338.1M69.7,350.1L87.6,364.7M42.4,406.6L88.7,379.0M111.9,409.3L112.5,401.5M642.5,607.5L687.5,607.5M642.5,607.5L642.5,652.5M642.5,652.5L687.5,652.5M687.5,607.5L687.5,652.5M642.5,562.5L642.5,607.5M687.5,562.5L687.5,607.5M687.5,562.5L642.5,562.5M597.5,607.5L642.5,607.5M597.5,652.5L642.5,652.5M642.5,697.5L642.5,652.5M687.5,697.5L687.5,652.5M597.5,562.5L642.5,562.5M454.9,403.4L482.9,404.4M489.5,351.5L499.4,359.0M499.4,359.0L499.4,385.4M482.9,404.4L499.4,385.4M147.5,832.5L147.5,766.7M192.5,776.4L192.5,832.5M147.5,832.5L192.5,832.5M177.5,766.6L192.5,776.4M241.5,773.3L237.5,776.0M192.5,776.4L237.5,776.0M237.5,832.5L282.5,832.5M192.5,832.5L237.5,832.5M327.5,832.5L282.5,832.5M282.5,787.1L282.5,832.5M237.5,776.0L237.5,832.5M147.5,161.1L171.4,169.6M147.5,161.1L147.5,112.5M171.4,169.6L202.0,149.6M192.5,112.5L147.5,112.5M192.5,112.5L211.0,131.0M211.0,131.0L202.0,149.6M177.9,202.4L171.4,169.6M117.6,172.6L147.5,161.1M102.5,112.5L147.5,112.5M225.0,186.3L202.0,149.6M192.5,67.5L192.5,112.5M147.5,67.5L147.5,112.5M237.5,124.5L211.0,131.0M507.5,202.5L552.5,202.5M507.5,202.5L493.9,216.1M493.9,217.0L493.9,216.1M493.9,217.0L523.4,260.3M552.5,247.5L552.5,202.5M552.5,247.5L537.1,262.9M523.4,260.3L537.1,262.9M552.5,157.5L552.5,202.5M507.5,157.5L552.5,157.5M507.5,157.5L507.5,202.5M462.5,157.5L507.5,157.5M462.1,195.6L493.9,216.1M462.5,157.5L454.3,165.7M458.5,252.4L493.9,217.0M495.0,279.5L523.4,260.3M597.5,247.5L597.5,202.5M597.5,247.5L552.5,247.5M597.5,202.5L552.5,202.5M462.5,67.5L507.5,67.5M462.5,67.5L462.5,112.5M462.5,112.5L507.5,112.5M507.5,67.5L507.5,112.5M417.5,112.5L462.5,112.5M417.5,67.5L462.5,67.5M462.5,157.5L462.5,112.5M507.5,157.5L507.5,112.5M552.5,112.5L507.5,112.5M552.5,67.5L552.5,112.5M552.5,67.5L507.5,67.5M687.5,112.5L687.5,67.5M57.5,832.5L57.5,787.5M57.5,832.5L102.5,832.5M102.5,787.5L102.5,832.5M102.5,787.5L57.5,787.5M12.5,787.5L57.5,787.5M12.5,832.5L57.5,832.5M147.5,832.5L102.5,832.5M121.3,768.7L102.5,787.5M57.5,742.5L57.5,787.5M169.1,420.0L187.9,434.6M169.1,420.0L164.1,395.0M164.1,395.0L191.8,372.8M189.8,434.6L226.0,415.0M189.8,434.6L187.9,434.6M191.8,372.8L225.3,400.6M226.0,415.0L225.3,400.6M158.2,476.4L187.9,434.6M129.3,436.9L169.1,420.0M139.2,384.5L164.1,395.0M190.8,357.9L191.8,372.8M251.3,436.7L226.0,415.0M213.1,479.1L189.8,434.6M253.0,368.3L225.3,400.6M497.4,445.4L530.1,460.4M497.4,445.4L499.3,426.1M499.3,426.1L544.1,415.3M530.1,460.4L555.2,433.4M555.2,433.4L544.1,415.3M470.2,470.7L497.4,445.4M530.1,478.3L530.1,460.4M482.9,404.4L499.3,426.1M499.4,385.4L544.0,396.9M544.0,396.9L544.1,415.3M590.1,472.5L579.3,499.3M590.1,472.5L582.2,442.8M582.2,442.8L555.2,433.4M499.4,359.0L542.2,345.9M544.0,396.9L552.1,382.5M552.1,382.5L542.2,345.9M597.5,427.5L597.5,382.5M597.5,427.5L582.2,442.8M552.1,382.5L597.5,382.5M642.5,337.5L687.5,337.5M642.5,382.5L642.5,337.5M687.5,382.5L642.5,382.5M687.5,382.5L687.5,337.5M597.5,67.5L642.5,67.5M597.5,112.5L597.5,67.5M642.5,112.5L642.5,67.5M552.5,67.5L597.5,67.5M687.5,67.5L642.5,67.5M597.5,292.5L597.5,337.5M550.0,292.5L597.5,292.5M545.5,337.5L597.5,337.5M550.0,292.5L540.7,320.6M540.7,320.6L545.5,337.5M537.1,262.9L550.0,292.5M597.5,247.5L597.5,292.5M597.5,382.5L597.5,337.5M542.2,345.9L545.5,337.5M498.8,311.9L540.7,320.6M642.5,382.5L597.5,382.5M642.5,337.5L597.5,337.5M687.5,247.5L687.5,292.5M687.5,247.5L642.5,247.5M642.5,247.5L642.5,292.5M687.5,292.5L642.5,292.5M687.5,202.5L687.5,247.5M642.5,202.5L642.5,247.5M597.5,247.5L642.5,247.5M597.5,292.5L642.5,292.5M642.5,337.5L642.5,292.5M687.5,337.5L687.5,292.5M687.5,562.5L687.5,517.5M642.5,517.5L687.5,517.5M642.5,562.5L642.5,517.5M597.5,517.5L642.5,517.5M687.5,427.5L687.5,472.5M687.5,427.5L642.5,427.5M642.5,427.5L642.5,472.5M687.5,472.5L642.5,472.5M687.5,382.5L687.5,427.5M642.5,382.5L642.5,427.5M590.1,472.5L642.5,472.5M597.5,427.5L642.5,427.5M642.5,517.5L642.5,472.5M687.5,517.5L687.5,472.5" fill="none"/></defs>
<use href="#vorp" stroke="#92361C" stroke-width="1.35" opacity="0.9"/>
<use href="#vorp" stroke="#C27A60" stroke-width="1.7" mask="url(#innm)"/>
<use href="#vorp" stroke="#CC9672" stroke-width="1.7" mask="url(#facem)"/>
</g>
<path d="M150.0,181.0C159.7,175.2 169.2,171.7 175.0,169.5C180.8,167.3 193.6,163.6 200.0,162.0C206.4,160.4 223.0,157.1 230.0,156.0C237.0,154.9 251.8,153.3 260.0,152.8C268.2,152.3 291.8,151.6 300.0,151.6C308.2,151.6 323.9,152.1 330.0,152.5C336.1,152.9 345.7,153.4 352.0,155.0C358.3,156.6 377.6,163.6 384.0,165.8C390.4,168.0 398.7,170.2 407.0,174.0C415.3,177.8 444.6,190.8 455.0,198.0C465.4,205.2 488.2,227.5 496.0,236.0C503.8,244.5 518.0,264.7 522.0,271.0C526.0,277.3 528.4,285.6 530.0,290.0C531.6,294.4 535.1,304.5 536.0,308.7C536.9,312.9 537.8,322.1 538.0,326.0C538.2,329.9 537.9,337.8 537.5,342.0C537.1,346.2 535.4,357.0 534.5,362.0C533.6,367.0 530.2,380.1 529.5,385.0C528.8,389.9 528.1,400.0 528.5,404.0C528.9,408.0 531.4,415.4 533.0,419.0C534.6,422.6 539.5,430.9 542.0,434.5C544.5,438.1 551.6,446.6 554.5,449.8C557.4,453.0 564.1,459.1 566.8,462.0C569.5,464.9 576.0,471.9 577.6,474.4C579.2,476.9 580.6,481.4 580.6,483.6C580.6,485.8 579.2,490.9 577.6,492.9C576.0,494.9 569.5,499.3 566.8,500.5C564.1,501.7 557.0,502.7 554.5,503.6C552.0,504.5 546.9,506.9 545.3,508.2C543.7,509.5 541.4,512.2 540.7,514.4C540.0,516.6 539.2,523.8 539.2,526.7C539.2,529.6 540.0,536.0 540.7,538.9C541.4,541.8 544.6,548.4 545.3,551.2C546.0,554.0 546.8,560.3 546.5,563.0C546.2,565.7 544.6,572.0 543.0,574.0C541.4,576.0 534.5,579.0 533.0,580.0C531.5,581.0 530.0,582.5 530.0,582.5C530.0,582.5 538.4,585.8 540.0,587.5C541.6,589.2 544.0,595.2 544.0,597.5C544.0,599.8 542.2,604.9 540.0,607.5C537.8,610.1 527.3,617.4 525.0,620.0C522.7,622.6 520.5,626.5 520.0,630.0C519.5,633.5 520.1,646.2 521.0,650.0C521.9,653.8 526.9,659.9 527.5,662.5C528.1,665.1 526.9,669.9 526.0,672.5C525.1,675.1 521.9,682.1 520.0,685.0C518.1,687.9 514.7,695.3 510.0,697.5C505.3,699.7 486.4,702.9 480.0,703.8C473.6,704.6 461.4,705.1 455.0,705.0C448.6,704.9 431.7,702.0 425.0,702.5C418.3,703.0 397.6,709.6 397.6,709.6C397.6,709.6 392.9,715.2 391.0,721.0C389.1,726.8 383.5,752.9 381.6,759.0C379.7,765.1 375.0,773.6 375.0,773.6C375.0,773.6 346.0,765.6 346.0,765.6C346.0,765.6 311.0,762.4 311.0,762.4C311.0,762.4 279.0,772.0 279.0,772.0C279.0,772.0 247.0,756.0 247.0,756.0C247.0,756.0 229.4,749.3 221.6,748.0C213.8,746.7 190.5,745.5 180.0,744.8C169.5,744.1 139.5,742.7 132.0,741.6C124.5,740.5 121.4,736.7 116.0,735.3C110.6,733.9 86.0,730.0 86.0,730.0C86.0,730.0 84.2,722.6 85.0,718.0C85.8,713.4 91.2,698.5 92.8,690.8C94.4,683.1 97.9,661.0 98.6,652.0C99.3,643.0 98.9,622.4 98.6,613.4C98.3,604.4 96.6,582.8 95.9,574.7C95.2,566.6 94.1,549.7 92.8,543.8C91.5,537.9 87.8,529.8 85.1,524.4C82.4,519.0 73.2,503.7 69.6,497.4C66.0,491.1 57.4,476.6 54.2,470.3C51.1,464.0 44.7,449.3 42.6,443.2C40.5,437.1 37.7,426.7 36.5,418.0C35.3,409.3 31.9,380.3 32.0,369.0C32.1,357.7 35.3,331.4 37.5,321.0C39.7,310.6 44.6,291.9 51.0,280.0C57.4,268.1 80.5,230.6 92.0,219.0C103.5,207.4 140.3,186.8 150.0,181.0Z" fill="none" stroke="#111" stroke-width="3.9" stroke-linejoin="round"/>
<path d="M448.2,373.0C449.7,371.5 463.9,362.9 469.8,360.5C475.7,358.1 487.3,355.6 492.6,354.8C497.9,354.0 505.5,353.9 509.6,354.2C513.7,354.5 523.3,357.0 523.3,357.0C523.3,357.0 519.9,369.0 519.9,369.0C519.9,369.0 509.2,369.7 504.0,369.6C498.8,369.5 487.3,368.1 481.2,368.4C475.1,368.7 462.8,371.3 458.4,371.9C454.0,372.5 446.7,374.5 448.2,373.0Z" fill="none" stroke="#111" stroke-width="2.4" stroke-linejoin="round"/>
<g fill="none" stroke="#1a1010" stroke-width="2" stroke-linecap="round">
<path d="M253.7,450.7C252.0,447.8 247.4,437.4 243.7,433.0C240.0,428.6 236.0,426.4 231.4,424.6C226.8,422.8 221.1,422.2 216.0,422.3C210.9,422.4 205.5,423.6 200.7,425.4C195.8,427.2 190.5,429.7 186.9,433.0C183.3,436.3 180.9,440.7 179.2,445.3C177.5,449.9 176.9,455.3 176.9,460.7C176.9,466.1 177.8,472.2 179.2,477.6C180.6,483.0 182.8,487.9 185.4,493.0C188.0,498.1 192.1,504.5 194.6,508.3C197.1,512.1 197.6,513.4 200.7,516.0C203.8,518.6 208.4,521.1 213.0,523.7C217.6,526.3 223.5,529.5 228.4,531.4C233.3,533.3 238.1,534.8 242.2,535.2C246.3,535.6 250.2,534.6 253.0,533.7C255.8,532.8 258.1,530.4 259.1,529.8"/>
<path d="M222.2,516.0C220.4,514.2 215.1,509.6 211.5,505.2C207.9,500.8 204.0,495.5 200.7,489.9C197.4,484.3 193.6,477.3 191.5,471.4C189.4,465.5 188.4,459.4 188.4,454.5C188.4,449.6 189.4,445.5 191.5,442.3C193.6,439.1 197.4,436.7 200.7,435.3C204.0,433.9 207.7,433.7 211.5,433.8C215.3,433.9 220.0,434.4 223.8,436.1C227.6,437.8 232.2,440.5 234.5,443.8C236.8,447.1 236.9,452.0 237.6,456.1C238.2,460.2 237.6,464.8 238.4,468.4C239.2,472.0 240.3,475.1 242.2,477.6C244.1,480.2 248.9,481.1 249.9,483.7C250.9,486.2 248.3,489.8 248.3,492.9C248.3,496.0 249.1,499.4 249.9,502.2C250.7,505.0 253.7,507.8 252.9,509.8C252.1,511.9 247.9,515.0 245.3,514.5C242.8,514.0 239.9,508.5 237.6,506.8C235.3,505.1 234.0,504.8 231.4,504.5C228.8,504.2 224.8,506.1 222.2,505.2C219.6,504.3 217.6,501.4 216.1,499.1C214.6,496.8 213.5,492.7 213.0,491.4"/>
</g>
<path d="M445,418.5 C455,412 470,401 486.5,392" fill="none" stroke="#111" stroke-width="1.6" stroke-linecap="round"/>
<path d="M453.3,408.3 C460,403 475,392 488.6,385.5" fill="none" stroke="#111" stroke-width="1.4" stroke-linecap="round"/>
<path d="M486.5,392 L488.8,394 L483,399" fill="none" stroke="#111" stroke-width="1.3" stroke-linecap="round"/>
<path d="M449,417.4 C458,422 470,429 478,431.5 C482,432 484.5,431 483.5,428" fill="none" stroke="#111" stroke-width="1.6" stroke-linecap="round"/>
<path d="M444,419 L449,417.6" stroke="#111" stroke-width="1.6"/>
<ellipse cx="477.8" cy="414.5" rx="4.8" ry="12" fill="none" stroke="#111" stroke-width="1.6"/>
<ellipse cx="479.6" cy="414.5" rx="1.6" ry="2.6" fill="#222"/>
<path d="M508.4,492.9 Q507,506 516,512 Q528,516 540,511 L551.5,505" fill="none" stroke="#111" stroke-width="2" stroke-linecap="round"/>
<ellipse cx="548" cy="497.5" rx="9" ry="3.3" transform="rotate(-18 548 497.5)" fill="#5a4a40" stroke="#111" stroke-width="1.2"/>
<path d="M489,588.5 L492,584.5 L512,584 L532,581" fill="none" stroke="#111" stroke-width="3" stroke-linecap="round" stroke-linejoin="round"/>
<path d="M292,671 Q315,684 340,690 Q380,697 420,699" fill="none" stroke="#111" stroke-width="2.6" stroke-linecap="round"/>
<text x="125.4" y="262.5" font-family="Liberation Sans, sans-serif" font-weight="bold" font-size="57" fill="#000" stroke="#000" stroke-width="0.8">Trigeminal</text>
<text x="125" y="326.3" font-family="Liberation Sans, sans-serif" font-weight="bold" font-size="57" fill="#000" stroke="#000" stroke-width="0.8">nerve</text>
<g transform="translate(0,0)">
<path d="M582.0,42.0C589.8,36.2 610.7,23.8 622.0,20.0C633.3,16.2 658.3,14.4 667.0,13.7C675.7,13.0 681.0,13.8 687.3,14.6C693.6,15.4 707.3,17.6 714.6,20.0C721.9,22.4 735.7,28.7 742.0,32.8C748.3,36.9 757.4,46.2 762.0,51.0C766.6,55.8 773.7,64.1 776.6,69.0C779.5,73.9 782.8,83.1 784.0,87.4C785.2,91.7 785.4,98.0 785.4,101.4C785.4,104.8 784.2,109.8 783.7,112.8C783.2,115.8 782.1,121.0 782.0,124.0C781.9,127.0 781.8,132.4 782.6,135.5C783.4,138.6 786.3,144.3 788.3,147.0C790.3,149.7 795.3,153.7 797.4,156.0C799.5,158.3 803.3,162.2 804.2,164.0C805.1,165.8 804.8,168.2 804.2,169.6C803.6,171.0 801.1,173.1 799.6,174.2C798.1,175.3 794.3,176.7 792.8,177.6C791.3,178.5 789.2,179.3 788.3,181.0C787.4,182.7 786.4,188.0 786.4,190.0C786.4,192.0 787.6,193.9 788.0,196.0C788.4,198.1 790.0,203.5 789.6,205.6C789.2,207.7 784.8,212.0 784.8,212.0C784.8,212.0 781.4,214.3 781.6,215.2C781.8,216.1 785.8,217.3 786.4,218.4C787.0,219.5 787.0,221.9 786.4,223.2C785.8,224.5 782.8,226.7 781.6,228.0C780.4,229.3 778.1,230.7 777.6,232.8C777.1,234.9 777.4,241.7 777.6,244.0C777.8,246.3 779.2,248.5 779.2,250.4C779.2,252.3 778.6,256.3 777.6,258.4C776.6,260.5 774.5,264.9 772.0,266.4C769.5,267.9 763.0,269.2 759.2,269.6C755.4,270.0 747.0,269.6 743.2,269.6C739.4,269.6 731.0,269.7 731.0,269.7C731.0,269.7 722.1,271.3 720.2,272.4C718.3,273.5 717.6,275.2 716.6,277.8C715.6,280.4 714.0,288.8 713.0,292.2C712.0,295.6 709.4,303.0 709.4,303.0C709.4,303.0 680.6,297.6 680.6,297.6C680.6,297.6 664.4,301.2 664.4,301.2C664.4,301.2 639.2,291.3 639.2,291.3C639.2,291.3 619.8,290.0 614.0,289.5C608.2,289.0 601.3,288.5 596.0,287.7C590.7,286.9 574.4,283.2 574.4,283.2C574.4,283.2 573.1,280.4 573.5,277.8C573.9,275.2 576.3,267.0 577.1,263.4C577.9,259.8 579.4,253.7 579.8,250.8C580.2,247.9 580.1,245.8 580.0,242.0C579.9,238.2 579.1,227.1 579.0,222.0C578.9,216.9 579.3,207.9 579.0,203.8C578.7,199.7 578.0,195.4 576.4,191.0C574.8,186.6 569.7,175.9 567.3,171.0C564.9,166.1 560.1,158.7 558.2,154.6C556.3,150.5 553.7,143.6 552.7,140.0C551.7,136.4 551.2,132.6 551.0,127.5C550.8,122.4 550.5,108.3 551.0,102.0C551.5,95.7 552.9,85.1 554.6,80.0C556.3,74.9 560.0,68.8 563.7,63.7C567.4,58.6 574.2,47.8 582.0,42.0Z" fill="#E5C1AE"/>
<path d="M582.0,42.0C584.2,38.6 613.5,22.8 622.0,20.0C630.5,17.2 660.5,14.2 667.0,13.7C673.5,13.2 682.5,14.0 687.3,14.6C692.1,15.2 709.1,18.2 714.6,20.0C720.1,21.8 737.3,29.7 742.0,32.8C746.7,35.9 758.5,47.4 762.0,51.0C765.5,54.6 774.4,65.4 776.6,69.0C778.8,72.6 783.1,84.2 784.0,87.4C784.9,90.6 785.4,98.9 785.4,101.4C785.4,103.9 784.0,110.5 783.7,112.8C783.4,115.1 782.1,121.7 782.0,124.0C781.9,126.3 782.0,133.2 782.6,135.5C783.2,137.8 786.8,144.9 788.3,147.0C789.8,149.1 795.8,154.3 797.4,156.0C799.0,157.7 803.5,162.6 804.2,164.0C804.9,165.4 804.7,168.6 804.2,169.6C803.7,170.6 800.7,173.4 799.6,174.2C798.5,175.0 793.9,176.9 792.8,177.6C791.7,178.3 788.9,180.2 788.3,181.0C787.7,181.8 787.9,186.0 787.0,186.0C786.1,186.0 780.8,182.2 779.2,181.0C777.6,179.8 772.3,175.9 771.2,174.2C770.1,172.5 768.4,166.1 767.8,164.0C767.2,161.9 766.0,155.4 765.5,153.7C765.0,152.0 764.3,147.8 763.2,146.9C762.1,146.0 756.1,145.2 754.1,144.6C752.1,144.0 745.1,142.3 742.8,141.2C740.5,140.1 733.5,134.8 731.4,133.2C729.3,131.6 723.5,126.7 722.0,125.0C720.5,123.3 717.3,118.6 716.0,116.5C714.7,114.4 710.8,106.4 709.2,104.2C707.6,102.0 701.8,96.4 699.7,94.6C697.7,92.8 690.9,87.8 688.7,86.4C686.5,85.0 679.8,82.1 677.8,81.0C675.8,79.9 670.6,76.3 668.3,75.5C666.0,74.7 657.6,72.8 654.6,72.8C651.6,72.8 640.9,74.5 638.2,75.5C635.5,76.5 629.5,83.1 627.3,82.3C625.1,81.5 619.1,70.2 616.4,67.3C613.7,64.4 603.4,56.2 600.0,53.7C596.6,51.2 579.8,45.4 582.0,42.0Z" fill="url(#redg1)"/>
<g fill="none" stroke="#111" stroke-width="3.2" stroke-linejoin="round" stroke-linecap="round">
<path d="M582.0,42.0C585.0,44.0 594.3,49.5 600.0,53.7C605.7,57.9 611.9,62.5 616.4,67.3C620.9,72.1 624.6,78.2 627.3,82.3C630.0,86.4 630.5,88.0 632.8,91.9C635.1,95.8 638.3,100.5 641.0,105.5C643.7,110.5 646.7,116.5 649.0,122.0C651.3,127.5 653.4,132.0 654.6,138.3C655.9,144.6 655.8,153.7 656.5,160.0C657.2,166.3 657.9,170.2 659.0,176.0C660.1,181.8 661.2,189.0 663.0,195.0C664.8,201.0 666.5,206.4 669.6,212.0C672.8,217.6 676.8,223.2 681.9,228.4C687.0,233.7 694.3,239.3 700.0,243.5C705.7,247.7 710.7,250.6 716.0,253.6C721.3,256.6 726.7,259.3 732.0,261.6C737.3,263.9 743.5,265.9 748.0,267.2C752.5,268.5 757.3,269.2 759.2,269.6"/>
<path d="M627.3,82.3C629.1,81.2 633.7,77.1 638.2,75.5C642.8,73.9 649.6,72.8 654.6,72.8C659.6,72.8 664.4,74.1 668.3,75.5C672.2,76.9 675.1,77.8 677.8,81.0C680.5,84.2 682.8,90.0 684.6,94.6C686.4,99.1 687.5,102.4 688.7,108.3C689.9,114.2 691.0,123.3 692.0,130.0C693.0,136.7 693.3,142.1 694.6,148.2C695.9,154.3 697.6,160.9 700.0,166.4C702.4,171.9 705.2,176.1 709.2,181.0C713.2,185.9 718.3,191.0 723.8,195.6C729.3,200.2 736.2,205.0 742.0,208.3C747.8,211.6 753.4,214.6 758.4,215.6C763.4,216.6 767.6,215.1 772.0,214.5C776.4,213.9 782.7,212.4 784.8,212.0"/>
<path d="M677.8,81.0C679.6,81.9 685.1,84.1 688.7,86.4C692.4,88.7 696.3,91.6 699.7,94.6C703.1,97.6 706.5,100.5 709.2,104.2C711.9,107.9 713.9,113.0 716.0,116.5C718.1,120.0 719.4,122.2 722.0,125.0C724.6,127.8 727.9,130.5 731.4,133.2C734.9,135.9 739.0,139.3 742.8,141.2C746.6,143.1 750.7,143.6 754.1,144.6C757.5,145.6 761.3,145.4 763.2,146.9C765.1,148.4 764.7,150.8 765.5,153.7C766.3,156.5 766.8,160.6 767.8,164.0C768.8,167.4 769.3,171.4 771.2,174.2C773.1,177.0 776.6,179.0 779.2,181.0C781.8,183.0 785.7,185.2 787.0,186.0"/>
<path d="M582.0,42.0C587.3,39.1 610.7,23.8 622.0,20.0C633.3,16.2 658.3,14.4 667.0,13.7C675.7,13.0 681.0,13.8 687.3,14.6C693.6,15.4 707.3,17.6 714.6,20.0C721.9,22.4 735.7,28.7 742.0,32.8C748.3,36.9 757.4,46.2 762.0,51.0C766.6,55.8 773.7,64.1 776.6,69.0C779.5,73.9 782.8,83.1 784.0,87.4C785.2,91.7 785.4,98.0 785.4,101.4C785.4,104.8 784.2,109.8 783.7,112.8C783.2,115.8 782.1,121.0 782.0,124.0C781.9,127.0 781.8,132.4 782.6,135.5C783.4,138.6 786.3,144.3 788.3,147.0C790.3,149.7 795.3,153.7 797.4,156.0C799.5,158.3 803.3,162.2 804.2,164.0C805.1,165.8 804.8,168.2 804.2,169.6C803.6,171.0 801.1,173.1 799.6,174.2C798.1,175.3 794.3,176.7 792.8,177.6C791.3,178.5 789.2,179.3 788.3,181.0C787.4,182.7 786.4,188.0 786.4,190.0C786.4,192.0 787.6,193.9 788.0,196.0C788.4,198.1 790.0,203.5 789.6,205.6C789.2,207.7 784.8,212.0 784.8,212.0C784.8,212.0 781.4,214.3 781.6,215.2C781.8,216.1 785.8,217.3 786.4,218.4C787.0,219.5 787.0,221.9 786.4,223.2C785.8,224.5 782.8,226.7 781.6,228.0C780.4,229.3 778.1,230.7 777.6,232.8C777.1,234.9 777.4,241.7 777.6,244.0C777.8,246.3 779.2,248.5 779.2,250.4C779.2,252.3 778.6,256.3 777.6,258.4C776.6,260.5 774.5,264.9 772.0,266.4C769.5,267.9 763.0,269.2 759.2,269.6C755.4,270.0 747.0,269.6 743.2,269.6C739.4,269.6 731.0,269.7 731.0,269.7C731.0,269.7 722.1,271.3 720.2,272.4C718.3,273.5 717.6,275.2 716.6,277.8C715.6,280.4 714.0,288.8 713.0,292.2C712.0,295.6 709.4,303.0 709.4,303.0" stroke-width="2.8"/>
<path d="M709.4,303.0C709.4,303.0 680.6,297.6 680.6,297.6C680.6,297.6 664.4,301.2 664.4,301.2C664.4,301.2 639.2,291.3 639.2,291.3C639.2,291.3 619.8,290.0 614.0,289.5C608.2,289.0 601.3,288.5 596.0,287.7C590.7,286.9 574.4,283.2 574.4,283.2C574.4,283.2 573.1,280.4 573.5,277.8C573.9,275.2 576.3,267.0 577.1,263.4C577.9,259.8 579.4,253.7 579.8,250.8C580.2,247.9 580.1,245.8 580.0,242.0C579.9,238.2 579.1,227.1 579.0,222.0C578.9,216.9 579.3,207.9 579.0,203.8C578.7,199.7 578.0,195.4 576.4,191.0C574.8,186.6 569.7,175.9 567.3,171.0C564.9,166.1 560.1,158.7 558.2,154.6C556.3,150.5 553.7,143.6 552.7,140.0C551.7,136.4 551.2,132.6 551.0,127.5C550.8,122.4 550.5,108.3 551.0,102.0C551.5,95.7 552.9,85.1 554.6,80.0C556.3,74.9 560.0,68.8 563.7,63.7C567.4,58.6 579.6,44.9 582.0,42.0" stroke-width="1.6" stroke="#2a1a14"/>
</g>
<g fill="none" stroke="#3a2218" stroke-width="1.3" stroke-linecap="round">
<path d="M655.2,189.4C654.0,189.9 650.4,192.0 648.0,192.2C645.6,192.4 643.4,191.7 640.9,190.6C638.4,189.5 635.4,187.4 632.9,185.8C630.4,184.2 627.8,183.3 625.7,181.0C623.6,178.7 621.6,175.1 620.1,172.2C618.6,169.3 617.6,166.6 617.0,163.5C616.4,160.4 616.2,156.8 616.6,153.9C617.0,151.0 617.9,148.0 619.3,145.9C620.7,143.8 622.6,142.3 624.9,141.2C627.2,140.1 630.2,139.3 632.9,139.2C635.6,139.1 638.4,139.4 640.9,140.4C643.4,141.4 646.1,143.0 648.0,145.1C649.9,147.2 651.3,151.8 652.0,153.1"/>
<path d="M636.9,182.6C635.7,181.5 631.8,178.6 629.7,176.2C627.6,173.8 625.4,170.8 624.1,168.2C622.8,165.5 622.1,163.0 621.7,160.3C621.3,157.7 621.2,154.6 621.7,152.3C622.2,150.0 623.4,148.0 624.9,146.7C626.4,145.4 628.5,145.0 630.5,144.7C632.5,144.4 634.9,144.5 636.9,145.1C638.9,145.7 641.2,146.8 642.5,148.3C643.8,149.8 644.4,151.9 644.8,153.9C645.2,155.9 644.4,158.4 644.8,160.3C645.2,162.2 646.3,163.8 647.2,165.1C648.1,166.4 650.0,166.9 650.4,168.2C650.8,169.5 649.6,171.1 649.6,173.0C649.6,174.9 650.7,177.9 650.4,179.4C650.1,180.9 648.9,181.8 648.0,181.8C647.1,181.8 645.8,180.2 644.8,179.4C643.8,178.6 642.9,177.3 641.7,177.0C640.5,176.7 638.8,178.1 637.7,177.8C636.6,177.5 636.0,176.5 635.3,175.4C634.6,174.3 634.0,172.1 633.7,171.4"/>
<path d="M669.8,255.3C673.1,256.8 682.4,262.4 689.6,264.3C696.8,266.2 706.4,266.2 713.0,267.0C719.6,267.8 726.3,268.5 729.0,268.8" stroke="#111" stroke-width="1.6"/>
</g>
<path d="M737.0,119.0C737.7,118.5 743.3,114.8 745.0,114.0C746.7,113.2 752.0,111.0 754.0,110.5C756.0,110.0 762.7,109.1 765.0,109.0C767.3,108.9 775.8,108.8 776.9,109.3C778.0,109.8 776.9,114.0 775.7,114.5C774.5,115.0 767.2,114.4 765.0,114.5C762.8,114.6 756.0,115.2 754.0,115.5C752.0,115.8 746.6,116.6 745.0,117.0C743.4,117.4 738.8,119.3 738.0,119.5C737.2,119.7 736.3,119.5 737.0,119.0Z" fill="#E6C8B0" stroke="#111" stroke-width="1.7"/>
<path d="M743,137 L757,129 L758.5,142.5 Q750,140.5 743,137 Z" fill="#efe4d6"/>
<ellipse cx="757.2" cy="136" rx="2.1" ry="5.8" fill="#efe4d6" stroke="#1a1410" stroke-width="1.1"/>
<ellipse cx="758" cy="136" rx="1" ry="2.4" fill="#1a1410"/>
<path d="M741.4,137.6 L762.4,121.7 M744,134.5 L762,121 M741.4,137.6 Q750,141 759,143.6" fill="none" stroke="#1a1410" stroke-width="1.2" stroke-linecap="round"/>
<ellipse cx="789" cy="174.8" rx="4.6" ry="1.9" transform="rotate(-25 789 174.8)" fill="#3a2218"/>
</g>
<g transform="translate(170,280)">
<path d="M582.0,42.0C589.8,36.2 610.7,23.8 622.0,20.0C633.3,16.2 658.3,14.4 667.0,13.7C675.7,13.0 681.0,13.8 687.3,14.6C693.6,15.4 707.3,17.6 714.6,20.0C721.9,22.4 735.7,28.7 742.0,32.8C748.3,36.9 757.4,46.2 762.0,51.0C766.6,55.8 773.7,64.1 776.6,69.0C779.5,73.9 782.8,83.1 784.0,87.4C785.2,91.7 785.4,98.0 785.4,101.4C785.4,104.8 784.2,109.8 783.7,112.8C783.2,115.8 782.1,121.0 782.0,124.0C781.9,127.0 781.8,132.4 782.6,135.5C783.4,138.6 786.3,144.3 788.3,147.0C790.3,149.7 795.3,153.7 797.4,156.0C799.5,158.3 803.3,162.2 804.2,164.0C805.1,165.8 804.8,168.2 804.2,169.6C803.6,171.0 801.1,173.1 799.6,174.2C798.1,175.3 794.3,176.7 792.8,177.6C791.3,178.5 789.2,179.3 788.3,181.0C787.4,182.7 786.4,188.0 786.4,190.0C786.4,192.0 787.6,193.9 788.0,196.0C788.4,198.1 790.0,203.5 789.6,205.6C789.2,207.7 784.8,212.0 784.8,212.0C784.8,212.0 781.4,214.3 781.6,215.2C781.8,216.1 785.8,217.3 786.4,218.4C787.0,219.5 787.0,221.9 786.4,223.2C785.8,224.5 782.8,226.7 781.6,228.0C780.4,229.3 778.1,230.7 777.6,232.8C777.1,234.9 777.4,241.7 777.6,244.0C777.8,246.3 779.2,248.5 779.2,250.4C779.2,252.3 778.6,256.3 777.6,258.4C776.6,260.5 774.5,264.9 772.0,266.4C769.5,267.9 763.0,269.2 759.2,269.6C755.4,270.0 747.0,269.6 743.2,269.6C739.4,269.6 731.0,269.7 731.0,269.7C731.0,269.7 722.1,271.3 720.2,272.4C718.3,273.5 717.6,275.2 716.6,277.8C715.6,280.4 714.0,288.8 713.0,292.2C712.0,295.6 709.4,303.0 709.4,303.0C709.4,303.0 680.6,297.6 680.6,297.6C680.6,297.6 664.4,301.2 664.4,301.2C664.4,301.2 639.2,291.3 639.2,291.3C639.2,291.3 619.8,290.0 614.0,289.5C608.2,289.0 601.3,288.5 596.0,287.7C590.7,286.9 574.4,283.2 574.4,283.2C574.4,283.2 573.1,280.4 573.5,277.8C573.9,275.2 576.3,267.0 577.1,263.4C577.9,259.8 579.4,253.7 579.8,250.8C580.2,247.9 580.1,245.8 580.0,242.0C579.9,238.2 579.1,227.1 579.0,222.0C578.9,216.9 579.3,207.9 579.0,203.8C578.7,199.7 578.0,195.4 576.4,191.0C574.8,186.6 569.7,175.9 567.3,171.0C564.9,166.1 560.1,158.7 558.2,154.6C556.3,150.5 553.7,143.6 552.7,140.0C551.7,136.4 551.2,132.6 551.0,127.5C550.8,122.4 550.5,108.3 551.0,102.0C551.5,95.7 552.9,85.1 554.6,80.0C556.3,74.9 560.0,68.8 563.7,63.7C567.4,58.6 574.2,47.8 582.0,42.0Z" fill="#E5C1AE"/>
<path d="M677.8,81.0C678.2,80.2 686.5,85.0 688.7,86.4C690.9,87.8 697.7,92.8 699.7,94.6C701.8,96.4 707.6,102.0 709.2,104.2C710.8,106.4 714.7,114.4 716.0,116.5C717.3,118.6 720.5,123.3 722.0,125.0C723.5,126.7 729.3,131.6 731.4,133.2C733.5,134.8 740.5,140.1 742.8,141.2C745.1,142.3 752.1,144.0 754.1,144.6C756.1,145.2 762.1,146.0 763.2,146.9C764.3,147.8 765.0,152.0 765.5,153.7C766.0,155.4 767.2,161.9 767.8,164.0C768.4,166.1 770.1,172.5 771.2,174.2C772.3,175.9 777.6,179.8 779.2,181.0C780.8,182.2 786.3,185.1 787.0,186.0C787.7,186.9 786.3,189.0 786.4,190.0C786.5,191.0 787.7,194.4 788.0,196.0C788.3,197.6 789.9,204.0 789.6,205.6C789.3,207.2 786.6,211.1 784.8,212.0C783.0,212.9 774.6,214.1 772.0,214.5C769.4,214.9 761.4,216.2 758.4,215.6C755.4,215.0 745.5,210.3 742.0,208.3C738.5,206.3 727.1,198.3 723.8,195.6C720.5,192.9 711.6,183.9 709.2,181.0C706.8,178.1 701.5,169.7 700.0,166.4C698.5,163.1 695.4,151.8 694.6,148.2C693.8,144.6 692.6,134.0 692.0,130.0C691.4,126.0 689.4,111.8 688.7,108.3C688.0,104.8 685.7,97.3 684.6,94.6C683.5,91.9 677.4,81.8 677.8,81.0Z" fill="url(#redg2)"/>
<g fill="none" stroke="#111" stroke-width="3.2" stroke-linejoin="round" stroke-linecap="round">
<path d="M582.0,42.0C585.0,44.0 594.3,49.5 600.0,53.7C605.7,57.9 611.9,62.5 616.4,67.3C620.9,72.1 624.6,78.2 627.3,82.3C630.0,86.4 630.5,88.0 632.8,91.9C635.1,95.8 638.3,100.5 641.0,105.5C643.7,110.5 646.7,116.5 649.0,122.0C651.3,127.5 653.4,132.0 654.6,138.3C655.9,144.6 655.8,153.7 656.5,160.0C657.2,166.3 657.9,170.2 659.0,176.0C660.1,181.8 661.2,189.0 663.0,195.0C664.8,201.0 666.5,206.4 669.6,212.0C672.8,217.6 676.8,223.2 681.9,228.4C687.0,233.7 694.3,239.3 700.0,243.5C705.7,247.7 710.7,250.6 716.0,253.6C721.3,256.6 726.7,259.3 732.0,261.6C737.3,263.9 743.5,265.9 748.0,267.2C752.5,268.5 757.3,269.2 759.2,269.6"/>
<path d="M627.3,82.3C629.1,81.2 633.7,77.1 638.2,75.5C642.8,73.9 649.6,72.8 654.6,72.8C659.6,72.8 664.4,74.1 668.3,75.5C672.2,76.9 675.1,77.8 677.8,81.0C680.5,84.2 682.8,90.0 684.6,94.6C686.4,99.1 687.5,102.4 688.7,108.3C689.9,114.2 691.0,123.3 692.0,130.0C693.0,136.7 693.3,142.1 694.6,148.2C695.9,154.3 697.6,160.9 700.0,166.4C702.4,171.9 705.2,176.1 709.2,181.0C713.2,185.9 718.3,191.0 723.8,195.6C729.3,200.2 736.2,205.0 742.0,208.3C747.8,211.6 753.4,214.6 758.4,215.6C763.4,216.6 767.6,215.1 772.0,214.5C776.4,213.9 782.7,212.4 784.8,212.0"/>
<path d="M677.8,81.0C679.6,81.9 685.1,84.1 688.7,86.4C692.4,88.7 696.3,91.6 699.7,94.6C703.1,97.6 706.5,100.5 709.2,104.2C711.9,107.9 713.9,113.0 716.0,116.5C718.1,120.0 719.4,122.2 722.0,125.0C724.6,127.8 727.9,130.5 731.4,133.2C734.9,135.9 739.0,139.3 742.8,141.2C746.6,143.1 750.7,143.6 754.1,144.6C757.5,145.6 761.3,145.4 763.2,146.9C765.1,148.4 764.7,150.8 765.5,153.7C766.3,156.5 766.8,160.6 767.8,164.0C768.8,167.4 769.3,171.4 771.2,174.2C773.1,177.0 776.6,179.0 779.2,181.0C781.8,183.0 785.7,185.2 787.0,186.0"/>
<path d="M582.0,42.0C587.3,39.1 610.7,23.8 622.0,20.0C633.3,16.2 658.3,14.4 667.0,13.7C675.7,13.0 681.0,13.8 687.3,14.6C693.6,15.4 707.3,17.6 714.6,20.0C721.9,22.4 735.7,28.7 742.0,32.8C748.3,36.9 757.4,46.2 762.0,51.0C766.6,55.8 773.7,64.1 776.6,69.0C779.5,73.9 782.8,83.1 784.0,87.4C785.2,91.7 785.4,98.0 785.4,101.4C785.4,104.8 784.2,109.8 783.7,112.8C783.2,115.8 782.1,121.0 782.0,124.0C781.9,127.0 781.8,132.4 782.6,135.5C783.4,138.6 786.3,144.3 788.3,147.0C790.3,149.7 795.3,153.7 797.4,156.0C799.5,158.3 803.3,162.2 804.2,164.0C805.1,165.8 804.8,168.2 804.2,169.6C803.6,171.0 801.1,173.1 799.6,174.2C798.1,175.3 794.3,176.7 792.8,177.6C791.3,178.5 789.2,179.3 788.3,181.0C787.4,182.7 786.4,188.0 786.4,190.0C786.4,192.0 787.6,193.9 788.0,196.0C788.4,198.1 790.0,203.5 789.6,205.6C789.2,207.7 784.8,212.0 784.8,212.0C784.8,212.0 781.4,214.3 781.6,215.2C781.8,216.1 785.8,217.3 786.4,218.4C787.0,219.5 787.0,221.9 786.4,223.2C785.8,224.5 782.8,226.7 781.6,228.0C780.4,229.3 778.1,230.7 777.6,232.8C777.1,234.9 777.4,241.7 777.6,244.0C777.8,246.3 779.2,248.5 779.2,250.4C779.2,252.3 778.6,256.3 777.6,258.4C776.6,260.5 774.5,264.9 772.0,266.4C769.5,267.9 763.0,269.2 759.2,269.6C755.4,270.0 747.0,269.6 743.2,269.6C739.4,269.6 731.0,269.7 731.0,269.7C731.0,269.7 722.1,271.3 720.2,272.4C718.3,273.5 717.6,275.2 716.6,277.8C715.6,280.4 714.0,288.8 713.0,292.2C712.0,295.6 709.4,303.0 709.4,303.0" stroke-width="2.8"/>
<path d="M709.4,303.0C709.4,303.0 680.6,297.6 680.6,297.6C680.6,297.6 664.4,301.2 664.4,301.2C664.4,301.2 639.2,291.3 639.2,291.3C639.2,291.3 619.8,290.0 614.0,289.5C608.2,289.0 601.3,288.5 596.0,287.7C590.7,286.9 574.4,283.2 574.4,283.2C574.4,283.2 573.1,280.4 573.5,277.8C573.9,275.2 576.3,267.0 577.1,263.4C577.9,259.8 579.4,253.7 579.8,250.8C580.2,247.9 580.1,245.8 580.0,242.0C579.9,238.2 579.1,227.1 579.0,222.0C578.9,216.9 579.3,207.9 579.0,203.8C578.7,199.7 578.0,195.4 576.4,191.0C574.8,186.6 569.7,175.9 567.3,171.0C564.9,166.1 560.1,158.7 558.2,154.6C556.3,150.5 553.7,143.6 552.7,140.0C551.7,136.4 551.2,132.6 551.0,127.5C550.8,122.4 550.5,108.3 551.0,102.0C551.5,95.7 552.9,85.1 554.6,80.0C556.3,74.9 560.0,68.8 563.7,63.7C567.4,58.6 579.6,44.9 582.0,42.0" stroke-width="1.6" stroke="#2a1a14"/>
</g>
<g fill="none" stroke="#3a2218" stroke-width="1.3" stroke-linecap="round">
<path d="M655.2,189.4C654.0,189.9 650.4,192.0 648.0,192.2C645.6,192.4 643.4,191.7 640.9,190.6C638.4,189.5 635.4,187.4 632.9,185.8C630.4,184.2 627.8,183.3 625.7,181.0C623.6,178.7 621.6,175.1 620.1,172.2C618.6,169.3 617.6,166.6 617.0,163.5C616.4,160.4 616.2,156.8 616.6,153.9C617.0,151.0 617.9,148.0 619.3,145.9C620.7,143.8 622.6,142.3 624.9,141.2C627.2,140.1 630.2,139.3 632.9,139.2C635.6,139.1 638.4,139.4 640.9,140.4C643.4,141.4 646.1,143.0 648.0,145.1C649.9,147.2 651.3,151.8 652.0,153.1"/>
<path d="M636.9,182.6C635.7,181.5 631.8,178.6 629.7,176.2C627.6,173.8 625.4,170.8 624.1,168.2C622.8,165.5 622.1,163.0 621.7,160.3C621.3,157.7 621.2,154.6 621.7,152.3C622.2,150.0 623.4,148.0 624.9,146.7C626.4,145.4 628.5,145.0 630.5,144.7C632.5,144.4 634.9,144.5 636.9,145.1C638.9,145.7 641.2,146.8 642.5,148.3C643.8,149.8 644.4,151.9 644.8,153.9C645.2,155.9 644.4,158.4 644.8,160.3C645.2,162.2 646.3,163.8 647.2,165.1C648.1,166.4 650.0,166.9 650.4,168.2C650.8,169.5 649.6,171.1 649.6,173.0C649.6,174.9 650.7,177.9 650.4,179.4C650.1,180.9 648.9,181.8 648.0,181.8C647.1,181.8 645.8,180.2 644.8,179.4C643.8,178.6 642.9,177.3 641.7,177.0C640.5,176.7 638.8,178.1 637.7,177.8C636.6,177.5 636.0,176.5 635.3,175.4C634.6,174.3 634.0,172.1 633.7,171.4"/>
<path d="M669.8,255.3C673.1,256.8 682.4,262.4 689.6,264.3C696.8,266.2 706.4,266.2 713.0,267.0C719.6,267.8 726.3,268.5 729.0,268.8" stroke="#111" stroke-width="1.6"/>
</g>
<path d="M737.0,119.0C737.7,118.5 743.3,114.8 745.0,114.0C746.7,113.2 752.0,111.0 754.0,110.5C756.0,110.0 762.7,109.1 765.0,109.0C767.3,108.9 775.8,108.8 776.9,109.3C778.0,109.8 776.9,114.0 775.7,114.5C774.5,115.0 767.2,114.4 765.0,114.5C762.8,114.6 756.0,115.2 754.0,115.5C752.0,115.8 746.6,116.6 745.0,117.0C743.4,117.4 738.8,119.3 738.0,119.5C737.2,119.7 736.3,119.5 737.0,119.0Z" fill="#E6C8B0" stroke="#111" stroke-width="1.7"/>
<path d="M743,137 L757,129 L758.5,142.5 Q750,140.5 743,137 Z" fill="#efe4d6"/>
<ellipse cx="757.2" cy="136" rx="2.1" ry="5.8" fill="#efe4d6" stroke="#1a1410" stroke-width="1.1"/>
<ellipse cx="758" cy="136" rx="1" ry="2.4" fill="#1a1410"/>
<path d="M741.4,137.6 L762.4,121.7 M744,134.5 L762,121 M741.4,137.6 Q750,141 759,143.6" fill="none" stroke="#1a1410" stroke-width="1.2" stroke-linecap="round"/>
<ellipse cx="789" cy="174.8" rx="4.6" ry="1.9" transform="rotate(-25 789 174.8)" fill="#3a2218"/>
</g>
<g transform="translate(16,564)">
<path d="M582.0,42.0C589.8,36.2 610.7,23.8 622.0,20.0C633.3,16.2 658.3,14.4 667.0,13.7C675.7,13.0 681.0,13.8 687.3,14.6C693.6,15.4 707.3,17.6 714.6,20.0C721.9,22.4 735.7,28.7 742.0,32.8C748.3,36.9 757.4,46.2 762.0,51.0C766.6,55.8 773.7,64.1 776.6,69.0C779.5,73.9 782.8,83.1 784.0,87.4C785.2,91.7 785.4,98.0 785.4,101.4C785.4,104.8 784.2,109.8 783.7,112.8C783.2,115.8 782.1,121.0 782.0,124.0C781.9,127.0 781.8,132.4 782.6,135.5C783.4,138.6 786.3,144.3 788.3,147.0C790.3,149.7 795.3,153.7 797.4,156.0C799.5,158.3 803.3,162.2 804.2,164.0C805.1,165.8 804.8,168.2 804.2,169.6C803.6,171.0 801.1,173.1 799.6,174.2C798.1,175.3 794.3,176.7 792.8,177.6C791.3,178.5 789.2,179.3 788.3,181.0C787.4,182.7 786.4,188.0 786.4,190.0C786.4,192.0 787.6,193.9 788.0,196.0C788.4,198.1 790.0,203.5 789.6,205.6C789.2,207.7 784.8,212.0 784.8,212.0C784.8,212.0 781.4,214.3 781.6,215.2C781.8,216.1 785.8,217.3 786.4,218.4C787.0,219.5 787.0,221.9 786.4,223.2C785.8,224.5 782.8,226.7 781.6,228.0C780.4,229.3 778.1,230.7 777.6,232.8C777.1,234.9 777.4,241.7 777.6,244.0C777.8,246.3 779.2,248.5 779.2,250.4C779.2,252.3 778.6,256.3 777.6,258.4C776.6,260.5 774.5,264.9 772.0,266.4C769.5,267.9 763.0,269.2 759.2,269.6C755.4,270.0 747.0,269.6 743.2,269.6C739.4,269.6 731.0,269.7 731.0,269.7C731.0,269.7 722.1,271.3 720.2,272.4C718.3,273.5 717.6,275.2 716.6,277.8C715.6,280.4 714.0,288.8 713.0,292.2C712.0,295.6 709.4,303.0 709.4,303.0C709.4,303.0 680.6,297.6 680.6,297.6C680.6,297.6 664.4,301.2 664.4,301.2C664.4,301.2 639.2,291.3 639.2,291.3C639.2,291.3 619.8,290.0 614.0,289.5C608.2,289.0 601.3,288.5 596.0,287.7C590.7,286.9 574.4,283.2 574.4,283.2C574.4,283.2 573.1,280.4 573.5,277.8C573.9,275.2 576.3,267.0 577.1,263.4C577.9,259.8 579.4,253.7 579.8,250.8C580.2,247.9 580.1,245.8 580.0,242.0C579.9,238.2 579.1,227.1 579.0,222.0C578.9,216.9 579.3,207.9 579.0,203.8C578.7,199.7 578.0,195.4 576.4,191.0C574.8,186.6 569.7,175.9 567.3,171.0C564.9,166.1 560.1,158.7 558.2,154.6C556.3,150.5 553.7,143.6 552.7,140.0C551.7,136.4 551.2,132.6 551.0,127.5C550.8,122.4 550.5,108.3 551.0,102.0C551.5,95.7 552.9,85.1 554.6,80.0C556.3,74.9 560.0,68.8 563.7,63.7C567.4,58.6 574.2,47.8 582.0,42.0Z" fill="#E5C1AE"/>
<path d="M627.3,82.3C626.8,83.9 631.4,89.6 632.8,91.9C634.2,94.2 639.4,102.5 641.0,105.5C642.6,108.5 647.6,118.7 649.0,122.0C650.4,125.3 653.9,134.5 654.6,138.3C655.4,142.1 656.1,156.2 656.5,160.0C656.9,163.8 658.4,172.5 659.0,176.0C659.6,179.5 661.9,191.4 663.0,195.0C664.1,198.6 667.7,208.7 669.6,212.0C671.5,215.3 678.9,225.2 681.9,228.4C684.9,231.6 696.6,241.0 700.0,243.5C703.4,246.0 712.8,251.8 716.0,253.6C719.2,255.4 728.8,260.2 732.0,261.6C735.2,263.0 745.3,266.4 748.0,267.2C750.7,268.0 756.8,269.7 759.2,269.6C761.6,269.5 770.2,267.5 772.0,266.4C773.8,265.3 776.9,260.0 777.6,258.4C778.3,256.8 779.2,251.8 779.2,250.4C779.2,249.0 777.8,245.8 777.6,244.0C777.4,242.2 777.2,234.4 777.6,232.8C778.0,231.2 780.7,229.0 781.6,228.0C782.5,227.0 785.9,224.2 786.4,223.2C786.9,222.2 786.9,219.2 786.4,218.4C785.9,217.6 781.8,215.8 781.6,215.2C781.4,214.6 785.8,212.1 784.8,212.0C783.8,211.9 774.6,214.1 772.0,214.5C769.4,214.9 761.4,216.2 758.4,215.6C755.4,215.0 745.5,210.3 742.0,208.3C738.5,206.3 727.1,198.3 723.8,195.6C720.5,192.9 711.6,183.9 709.2,181.0C706.8,178.1 701.5,169.7 700.0,166.4C698.5,163.1 695.4,151.8 694.6,148.2C693.8,144.6 692.6,134.0 692.0,130.0C691.4,126.0 689.4,111.8 688.7,108.3C688.0,104.8 685.7,97.3 684.6,94.6C683.5,91.9 679.4,82.9 677.8,81.0C676.2,79.1 670.6,76.3 668.3,75.5C666.0,74.7 657.6,72.8 654.6,72.8C651.6,72.8 640.9,74.5 638.2,75.5C635.5,76.5 627.8,80.7 627.3,82.3Z" fill="url(#redg3)"/>
<g fill="none" stroke="#111" stroke-width="3.2" stroke-linejoin="round" stroke-linecap="round">
<path d="M582.0,42.0C585.0,44.0 594.3,49.5 600.0,53.7C605.7,57.9 611.9,62.5 616.4,67.3C620.9,72.1 624.6,78.2 627.3,82.3C630.0,86.4 630.5,88.0 632.8,91.9C635.1,95.8 638.3,100.5 641.0,105.5C643.7,110.5 646.7,116.5 649.0,122.0C651.3,127.5 653.4,132.0 654.6,138.3C655.9,144.6 655.8,153.7 656.5,160.0C657.2,166.3 657.9,170.2 659.0,176.0C660.1,181.8 661.2,189.0 663.0,195.0C664.8,201.0 666.5,206.4 669.6,212.0C672.8,217.6 676.8,223.2 681.9,228.4C687.0,233.7 694.3,239.3 700.0,243.5C705.7,247.7 710.7,250.6 716.0,253.6C721.3,256.6 726.7,259.3 732.0,261.6C737.3,263.9 743.5,265.9 748.0,267.2C752.5,268.5 757.3,269.2 759.2,269.6"/>
<path d="M627.3,82.3C629.1,81.2 633.7,77.1 638.2,75.5C642.8,73.9 649.6,72.8 654.6,72.8C659.6,72.8 664.4,74.1 668.3,75.5C672.2,76.9 675.1,77.8 677.8,81.0C680.5,84.2 682.8,90.0 684.6,94.6C686.4,99.1 687.5,102.4 688.7,108.3C689.9,114.2 691.0,123.3 692.0,130.0C693.0,136.7 693.3,142.1 694.6,148.2C695.9,154.3 697.6,160.9 700.0,166.4C702.4,171.9 705.2,176.1 709.2,181.0C713.2,185.9 718.3,191.0 723.8,195.6C729.3,200.2 736.2,205.0 742.0,208.3C747.8,211.6 753.4,214.6 758.4,215.6C763.4,216.6 767.6,215.1 772.0,214.5C776.4,213.9 782.7,212.4 784.8,212.0"/>
<path d="M677.8,81.0C679.6,81.9 685.1,84.1 688.7,86.4C692.4,88.7 696.3,91.6 699.7,94.6C703.1,97.6 706.5,100.5 709.2,104.2C711.9,107.9 713.9,113.0 716.0,116.5C718.1,120.0 719.4,122.2 722.0,125.0C724.6,127.8 727.9,130.5 731.4,133.2C734.9,135.9 739.0,139.3 742.8,141.2C746.6,143.1 750.7,143.6 754.1,144.6C757.5,145.6 761.3,145.4 763.2,146.9C765.1,148.4 764.7,150.8 765.5,153.7C766.3,156.5 766.8,160.6 767.8,164.0C768.8,167.4 769.3,171.4 771.2,174.2C773.1,177.0 776.6,179.0 779.2,181.0C781.8,183.0 785.7,185.2 787.0,186.0"/>
<path d="M582.0,42.0C587.3,39.1 610.7,23.8 622.0,20.0C633.3,16.2 658.3,14.4 667.0,13.7C675.7,13.0 681.0,13.8 687.3,14.6C693.6,15.4 707.3,17.6 714.6,20.0C721.9,22.4 735.7,28.7 742.0,32.8C748.3,36.9 757.4,46.2 762.0,51.0C766.6,55.8 773.7,64.1 776.6,69.0C779.5,73.9 782.8,83.1 784.0,87.4C785.2,91.7 785.4,98.0 785.4,101.4C785.4,104.8 784.2,109.8 783.7,112.8C783.2,115.8 782.1,121.0 782.0,124.0C781.9,127.0 781.8,132.4 782.6,135.5C783.4,138.6 786.3,144.3 788.3,147.0C790.3,149.7 795.3,153.7 797.4,156.0C799.5,158.3 803.3,162.2 804.2,164.0C805.1,165.8 804.8,168.2 804.2,169.6C803.6,171.0 801.1,173.1 799.6,174.2C798.1,175.3 794.3,176.7 792.8,177.6C791.3,178.5 789.2,179.3 788.3,181.0C787.4,182.7 786.4,188.0 786.4,190.0C786.4,192.0 787.6,193.9 788.0,196.0C788.4,198.1 790.0,203.5 789.6,205.6C789.2,207.7 784.8,212.0 784.8,212.0C784.8,212.0 782.0,214.8 781.6,215.2" stroke-width="2.8"/>
<path d="M772.0,266.4C770.3,266.8 763.0,269.2 759.2,269.6C755.4,270.0 747.0,269.6 743.2,269.6C739.4,269.6 731.0,269.7 731.0,269.7C731.0,269.7 722.1,271.3 720.2,272.4C718.3,273.5 717.6,275.2 716.6,277.8C715.6,280.4 714.0,288.8 713.0,292.2C712.0,295.6 709.4,303.0 709.4,303.0" stroke-width="2.8"/>
<path d="M709.4,303.0C709.4,303.0 680.6,297.6 680.6,297.6C680.6,297.6 664.4,301.2 664.4,301.2C664.4,301.2 639.2,291.3 639.2,291.3C639.2,291.3 619.8,290.0 614.0,289.5C608.2,289.0 601.3,288.5 596.0,287.7C590.7,286.9 574.4,283.2 574.4,283.2C574.4,283.2 573.1,280.4 573.5,277.8C573.9,275.2 576.3,267.0 577.1,263.4C577.9,259.8 579.4,253.7 579.8,250.8C580.2,247.9 580.1,245.8 580.0,242.0C579.9,238.2 579.1,227.1 579.0,222.0C578.9,216.9 579.3,207.9 579.0,203.8C578.7,199.7 578.0,195.4 576.4,191.0C574.8,186.6 569.7,175.9 567.3,171.0C564.9,166.1 560.1,158.7 558.2,154.6C556.3,150.5 553.7,143.6 552.7,140.0C551.7,136.4 551.2,132.6 551.0,127.5C550.8,122.4 550.5,108.3 551.0,102.0C551.5,95.7 552.9,85.1 554.6,80.0C556.3,74.9 560.0,68.8 563.7,63.7C567.4,58.6 579.6,44.9 582.0,42.0" stroke-width="1.6" stroke="#2a1a14"/>
</g>
<g fill="none" stroke="#3a2218" stroke-width="1.3" stroke-linecap="round">
<path d="M655.2,189.4C654.0,189.9 650.4,192.0 648.0,192.2C645.6,192.4 643.4,191.7 640.9,190.6C638.4,189.5 635.4,187.4 632.9,185.8C630.4,184.2 627.8,183.3 625.7,181.0C623.6,178.7 621.6,175.1 620.1,172.2C618.6,169.3 617.6,166.6 617.0,163.5C616.4,160.4 616.2,156.8 616.6,153.9C617.0,151.0 617.9,148.0 619.3,145.9C620.7,143.8 622.6,142.3 624.9,141.2C627.2,140.1 630.2,139.3 632.9,139.2C635.6,139.1 638.4,139.4 640.9,140.4C643.4,141.4 646.1,143.0 648.0,145.1C649.9,147.2 651.3,151.8 652.0,153.1"/>
<path d="M636.9,182.6C635.7,181.5 631.8,178.6 629.7,176.2C627.6,173.8 625.4,170.8 624.1,168.2C622.8,165.5 622.1,163.0 621.7,160.3C621.3,157.7 621.2,154.6 621.7,152.3C622.2,150.0 623.4,148.0 624.9,146.7C626.4,145.4 628.5,145.0 630.5,144.7C632.5,144.4 634.9,144.5 636.9,145.1C638.9,145.7 641.2,146.8 642.5,148.3C643.8,149.8 644.4,151.9 644.8,153.9C645.2,155.9 644.4,158.4 644.8,160.3C645.2,162.2 646.3,163.8 647.2,165.1C648.1,166.4 650.0,166.9 650.4,168.2C650.8,169.5 649.6,171.1 649.6,173.0C649.6,174.9 650.7,177.9 650.4,179.4C650.1,180.9 648.9,181.8 648.0,181.8C647.1,181.8 645.8,180.2 644.8,179.4C643.8,178.6 642.9,177.3 641.7,177.0C640.5,176.7 638.8,178.1 637.7,177.8C636.6,177.5 636.0,176.5 635.3,175.4C634.6,174.3 634.0,172.1 633.7,171.4"/>
<path d="M669.8,255.3C673.1,256.8 682.4,262.4 689.6,264.3C696.8,266.2 706.4,266.2 713.0,267.0C719.6,267.8 726.3,268.5 729.0,268.8" stroke="#111" stroke-width="1.6"/>
</g>
<path d="M737.0,119.0C737.7,118.5 743.3,114.8 745.0,114.0C746.7,113.2 752.0,111.0 754.0,110.5C756.0,110.0 762.7,109.1 765.0,109.0C767.3,108.9 775.8,108.8 776.9,109.3C778.0,109.8 776.9,114.0 775.7,114.5C774.5,115.0 767.2,114.4 765.0,114.5C762.8,114.6 756.0,115.2 754.0,115.5C752.0,115.8 746.6,116.6 745.0,117.0C743.4,117.4 738.8,119.3 738.0,119.5C737.2,119.7 736.3,119.5 737.0,119.0Z" fill="#E6C8B0" stroke="#111" stroke-width="1.7"/>
<path d="M743,137 L757,129 L758.5,142.5 Q750,140.5 743,137 Z" fill="#efe4d6"/>
<ellipse cx="757.2" cy="136" rx="2.1" ry="5.8" fill="#efe4d6" stroke="#1a1410" stroke-width="1.1"/>
<ellipse cx="758" cy="136" rx="1" ry="2.4" fill="#1a1410"/>
<path d="M741.4,137.6 L762.4,121.7 M744,134.5 L762,121 M741.4,137.6 Q750,141 759,143.6" fill="none" stroke="#1a1410" stroke-width="1.2" stroke-linecap="round"/>
<ellipse cx="789" cy="174.8" rx="4.6" ry="1.9" transform="rotate(-25 789 174.8)" fill="#3a2218"/>
</g>
<path d="M430.1,347.9 L430.2,347.7 L430.3,347.5 L430.5,347.2 L430.7,346.8 L431.0,346.2 L431.3,345.5 L431.7,344.7 L432.2,343.7 L432.7,342.6 L433.3,341.1 L434.0,339.5 L434.8,337.5 L435.7,335.1 L436.8,332.4 L437.9,329.3 L439.2,326.0 L440.5,322.5 L441.8,318.9 L443.2,315.2 L444.6,311.4 L446.0,307.7 L447.4,304.2 L448.8,300.7 L450.1,297.5 L451.4,294.5 L452.8,291.4 L454.1,288.3 L455.5,285.2 L457.0,282.1 L458.4,279.1 L459.8,276.2 L461.1,273.3 L462.5,270.5 L463.8,267.8 L465.0,265.2 L466.2,262.8 L467.3,260.5 L468.4,258.4 L469.4,256.4 L470.3,254.5 L471.2,252.7 L472.1,251.0 L473.0,249.4 L473.8,247.7 L474.7,246.1 L475.6,244.5 L476.5,242.8 L477.5,241.1 L478.4,239.3 L479.4,237.7 L480.3,236.1 L481.3,234.4 L482.2,232.8 L483.2,231.2 L484.2,229.6 L485.2,227.9 L486.3,226.1 L487.4,224.3 L488.5,222.5 L489.7,220.5 L490.9,218.4 L492.2,216.2 L493.4,214.0 L494.7,211.8 L495.9,209.5 L497.2,207.3 L498.6,205.0 L499.9,202.7 L501.3,200.4 L502.8,198.1 L504.3,195.8 L505.9,193.5 L507.6,191.2 L509.4,188.8 L511.4,186.3 L513.4,183.8 L515.5,181.2 L517.6,178.7 L519.8,176.1 L521.9,173.6 L524.0,171.1 L526.0,168.7 L528.0,166.4 L529.8,164.3 L531.5,162.2 L533.0,160.3 L534.4,158.5 L535.8,156.8 L537.0,155.2 L538.3,153.7 L539.5,152.2 L540.8,150.7 L542.1,149.1 L543.5,147.5 L545.0,145.8 L546.7,144.0 L548.6,142.0 L550.7,140.0 L552.9,137.8 L555.2,135.6 L557.6,133.3 L560.0,131.0 L562.5,128.7 L564.9,126.4 L567.3,124.2 L569.6,122.0 L571.8,119.9 L573.8,118.0 L575.8,116.2 L577.6,114.5 L579.3,112.8 L581.0,111.3 L582.7,109.7 L584.2,108.3 L585.8,106.8 L587.4,105.4 L588.9,104.0 L590.5,102.5 L592.1,101.1 L593.7,99.6 L595.4,98.1 L597.0,96.5 L598.6,95.0 L600.1,93.6 L601.6,92.1 L603.1,90.7 L604.6,89.3 L606.1,87.9 L607.7,86.6 L609.4,85.2 L611.2,83.9 L613.1,82.5 L615.1,81.2 L617.4,79.8 L619.8,78.3 L622.2,76.9 L624.8,75.5 L627.5,74.0 L630.2,72.6 L632.9,71.2 L635.6,69.8 L638.3,68.4 L640.9,67.1 L643.4,65.8 L645.9,64.5 L648.6,63.2 L651.3,61.9 L654.1,60.6 L656.9,59.3 L659.6,58.0 L662.3,56.8 L664.7,55.7 L667.0,54.6 L669.0,53.7 L670.8,52.9 L672.2,52.3 L667.8,42.7 L666.4,43.4 L664.7,44.1 L662.7,45.0 L660.4,46.1 L657.9,47.2 L655.2,48.4 L652.5,49.6 L649.6,50.9 L646.8,52.3 L644.0,53.6 L641.2,54.9 L638.6,56.2 L636.0,57.5 L633.4,58.8 L630.7,60.2 L627.9,61.6 L625.2,63.0 L622.4,64.5 L619.6,65.9 L616.9,67.4 L614.3,68.9 L611.7,70.4 L609.3,72.0 L606.9,73.5 L604.7,75.0 L602.7,76.5 L600.7,78.1 L598.9,79.6 L597.2,81.1 L595.6,82.6 L594.0,84.1 L592.4,85.6 L590.9,87.1 L589.4,88.5 L587.9,89.9 L586.3,91.4 L584.6,92.9 L583.0,94.3 L581.4,95.7 L579.9,97.2 L578.3,98.6 L576.7,100.1 L575.1,101.5 L573.4,103.1 L571.7,104.6 L569.9,106.3 L568.1,108.0 L566.2,109.8 L564.1,111.7 L561.9,113.7 L559.6,115.9 L557.2,118.1 L554.7,120.4 L552.2,122.7 L549.8,125.0 L547.3,127.3 L544.9,129.6 L542.6,131.8 L540.5,134.0 L538.5,136.0 L536.6,137.9 L534.9,139.8 L533.4,141.5 L531.9,143.2 L530.6,144.8 L529.3,146.4 L528.0,148.0 L526.7,149.6 L525.3,151.2 L523.9,153.0 L522.4,154.8 L520.8,156.7 L519.0,158.9 L517.1,161.1 L515.1,163.5 L512.9,165.9 L510.8,168.4 L508.6,171.0 L506.4,173.6 L504.2,176.2 L502.0,178.8 L500.0,181.4 L498.0,184.0 L496.1,186.5 L494.4,189.0 L492.7,191.4 L491.1,193.9 L489.6,196.3 L488.1,198.8 L486.7,201.1 L485.3,203.5 L484.0,205.7 L482.8,208.0 L481.5,210.1 L480.3,212.1 L479.1,214.1 L477.9,216.0 L476.8,217.9 L475.7,219.7 L474.6,221.4 L473.6,223.1 L472.6,224.8 L471.6,226.4 L470.6,228.1 L469.6,229.7 L468.6,231.4 L467.6,233.2 L466.5,234.9 L465.5,236.7 L464.6,238.4 L463.7,240.1 L462.7,241.8 L461.8,243.5 L460.9,245.2 L460.0,246.9 L459.0,248.8 L458.0,250.7 L457.0,252.7 L455.9,254.9 L454.8,257.2 L453.6,259.6 L452.3,262.2 L451.0,264.9 L449.6,267.7 L448.2,270.6 L446.7,273.6 L445.3,276.7 L443.8,279.8 L442.4,282.9 L440.9,286.1 L439.5,289.3 L438.1,292.5 L436.7,295.8 L435.3,299.3 L433.8,303.0 L432.3,306.7 L430.9,310.5 L429.4,314.2 L428.0,317.9 L426.7,321.4 L425.5,324.6 L424.3,327.6 L423.3,330.3 L422.4,332.5 L421.6,334.4 L421.0,335.9 L420.4,337.1 L420.0,338.1 L419.6,338.9 L419.3,339.5 L419.1,339.9 L418.9,340.3 L418.7,340.6 L418.4,341.0 L418.2,341.6 L417.9,342.1Z" fill="#720707"/>
<path d="M665.5,32.8 L718.3,31.9 L678.2,61.9Z" fill="#6E0404"/>
<path d="M447.4,468.8 L448.4,468.4 L449.6,467.9 L451.0,467.3 L452.6,466.6 L454.3,465.9 L456.1,465.2 L458.0,464.4 L460.0,463.6 L461.9,462.7 L463.8,461.9 L465.7,461.2 L467.4,460.4 L469.1,459.7 L470.8,459.0 L472.5,458.3 L474.1,457.6 L475.8,456.8 L477.5,456.1 L479.1,455.4 L480.8,454.7 L482.5,454.0 L484.1,453.2 L485.8,452.5 L487.4,451.8 L489.1,451.1 L490.6,450.5 L492.1,449.8 L493.5,449.2 L495.0,448.6 L496.5,447.9 L498.0,447.3 L499.7,446.6 L501.4,445.8 L503.3,445.0 L505.3,444.1 L507.5,443.1 L509.9,442.1 L512.5,440.9 L515.2,439.7 L518.0,438.4 L520.9,437.0 L523.8,435.6 L526.9,434.2 L529.9,432.8 L533.0,431.5 L536.1,430.1 L539.2,428.8 L542.3,427.5 L545.4,426.2 L548.6,425.0 L551.9,423.7 L555.1,422.4 L558.5,421.2 L561.8,419.9 L565.2,418.7 L568.5,417.4 L571.9,416.2 L575.3,415.1 L578.6,413.9 L582.0,412.8 L585.2,411.7 L588.4,410.6 L591.5,409.5 L594.5,408.4 L597.6,407.4 L600.6,406.4 L603.7,405.5 L606.9,404.5 L610.2,403.6 L613.6,402.7 L617.3,401.8 L621.3,400.9 L625.5,400.1 L629.9,399.2 L634.6,398.3 L639.5,397.5 L644.5,396.7 L649.6,395.9 L654.8,395.1 L660.1,394.4 L665.3,393.7 L670.5,393.0 L675.6,392.2 L680.7,391.6 L685.7,390.9 L690.8,390.3 L696.0,389.7 L701.2,389.1 L706.5,388.6 L711.6,388.1 L716.8,387.6 L721.8,387.2 L726.7,386.8 L731.4,386.5 L735.9,386.3 L740.1,386.1 L744.1,386.0 L747.9,385.9 L751.5,386.0 L754.9,386.1 L758.2,386.2 L761.4,386.4 L764.6,386.6 L767.6,386.8 L770.6,387.1 L773.6,387.4 L776.6,387.6 L779.6,387.9 L782.5,388.2 L785.4,388.5 L788.2,388.8 L790.9,389.2 L793.7,389.5 L796.3,389.9 L798.9,390.3 L801.5,390.7 L804.0,391.1 L806.5,391.5 L809.0,391.9 L811.3,392.3 L813.6,392.6 L815.8,392.9 L817.9,393.2 L820.0,393.5 L821.9,393.8 L823.9,394.0 L825.7,394.3 L827.6,394.6 L829.4,394.9 L831.3,395.3 L833.2,395.6 L835.1,396.0 L837.1,396.5 L839.2,397.1 L841.4,397.7 L843.7,398.3 L846.0,399.0 L848.3,399.6 L850.5,400.3 L852.6,400.9 L854.5,401.5 L856.2,402.0 L857.7,402.5 L858.9,402.8 L861.1,395.2 L860.0,394.8 L858.6,394.4 L856.9,393.8 L855.0,393.2 L852.9,392.6 L850.7,391.9 L848.4,391.1 L846.0,390.4 L843.7,389.7 L841.3,389.1 L839.1,388.5 L836.9,388.0 L834.9,387.5 L832.9,387.1 L830.9,386.7 L829.0,386.3 L827.1,386.0 L825.1,385.7 L823.2,385.4 L821.2,385.1 L819.2,384.8 L817.1,384.4 L814.9,384.1 L812.7,383.7 L810.3,383.4 L807.9,383.0 L805.5,382.5 L802.9,382.1 L800.3,381.7 L797.7,381.2 L795.0,380.8 L792.2,380.4 L789.3,380.0 L786.4,379.6 L783.4,379.2 L780.4,378.9 L777.4,378.6 L774.5,378.3 L771.5,378.0 L768.4,377.7 L765.3,377.4 L762.1,377.2 L758.7,376.9 L755.3,376.8 L751.7,376.6 L748.0,376.5 L744.0,376.5 L739.9,376.5 L735.5,376.6 L730.9,376.7 L726.1,376.9 L721.2,377.1 L716.1,377.3 L710.9,377.6 L705.6,377.9 L700.3,378.3 L694.9,378.7 L689.7,379.1 L684.5,379.6 L679.3,380.0 L674.2,380.6 L669.0,381.1 L663.7,381.8 L658.4,382.5 L653.1,383.2 L647.9,384.0 L642.6,384.8 L637.5,385.6 L632.6,386.4 L627.7,387.3 L623.1,388.2 L618.7,389.1 L614.6,390.0 L610.7,390.9 L607.0,391.9 L603.5,392.9 L600.1,393.9 L596.9,394.9 L593.7,395.9 L590.6,396.9 L587.6,398.0 L584.5,399.0 L581.3,400.1 L578.0,401.2 L574.7,402.4 L571.3,403.5 L567.8,404.7 L564.4,405.9 L561.0,407.2 L557.6,408.4 L554.2,409.7 L550.8,411.0 L547.4,412.3 L544.1,413.5 L540.9,414.8 L537.7,416.1 L534.5,417.4 L531.3,418.8 L528.1,420.2 L524.9,421.6 L521.7,423.0 L518.7,424.4 L515.7,425.8 L512.8,427.2 L510.0,428.5 L507.3,429.7 L504.8,430.8 L502.5,431.9 L500.3,432.8 L498.3,433.7 L496.5,434.5 L494.8,435.2 L493.2,435.9 L491.6,436.5 L490.2,437.2 L488.7,437.8 L487.2,438.4 L485.7,439.0 L484.2,439.7 L482.6,440.4 L480.9,441.1 L479.2,441.8 L477.5,442.6 L475.9,443.3 L474.2,444.0 L472.5,444.7 L470.9,445.4 L469.2,446.1 L467.5,446.9 L465.9,447.6 L464.2,448.3 L462.6,449.0 L460.9,449.7 L459.0,450.4 L457.1,451.2 L455.2,452.0 L453.3,452.8 L451.4,453.6 L449.5,454.4 L447.8,455.1 L446.2,455.7 L444.8,456.3 L443.6,456.8 L442.6,457.2Z" fill="#720707"/>
<path d="M866.4,389.6 L908.0,424.0 L858.4,418.4Z" fill="#6E0404"/>
<path d="M371.1,618.4 L372.3,619.1 L373.8,620.0 L375.6,621.1 L377.6,622.3 L379.7,623.5 L382.0,624.9 L384.3,626.3 L386.7,627.7 L389.1,629.2 L391.4,630.7 L393.7,632.2 L395.8,633.6 L397.9,635.1 L400.1,636.6 L402.3,638.2 L404.5,639.8 L406.7,641.5 L409.0,643.3 L411.3,645.0 L413.6,646.8 L415.9,648.5 L418.2,650.3 L420.5,652.0 L422.8,653.7 L425.1,655.3 L427.3,657.0 L429.6,658.6 L431.9,660.2 L434.2,661.9 L436.4,663.5 L438.7,665.1 L440.9,666.7 L443.1,668.2 L445.3,669.8 L447.5,671.3 L449.6,672.9 L451.8,674.4 L453.9,675.9 L456.0,677.4 L458.1,678.8 L460.1,680.3 L462.2,681.8 L464.2,683.2 L466.2,684.6 L468.2,686.1 L470.1,687.5 L472.1,688.9 L474.0,690.3 L475.8,691.7 L477.5,693.1 L479.2,694.4 L480.8,695.8 L482.5,697.1 L484.2,698.5 L486.0,699.9 L487.8,701.4 L489.7,702.9 L491.7,704.4 L493.9,706.0 L496.2,707.7 L498.6,709.3 L501.1,711.0 L503.6,712.7 L506.3,714.5 L509.0,716.3 L511.8,718.1 L514.6,720.0 L517.6,721.8 L520.7,723.7 L523.8,725.6 L527.1,727.6 L530.4,729.5 L533.8,731.5 L537.3,733.5 L540.9,735.5 L544.6,737.5 L548.3,739.6 L552.2,741.7 L556.1,743.8 L560.2,745.9 L564.3,748.0 L568.6,750.1 L572.9,752.2 L577.4,754.3 L582.1,756.4 L587.1,758.6 L592.3,760.9 L597.7,763.2 L603.2,765.4 L608.7,767.7 L614.2,769.9 L619.5,772.0 L624.6,773.9 L629.5,775.8 L633.9,777.4 L638.0,778.9 L641.6,780.2 L644.9,781.2 L648.0,782.1 L650.7,782.9 L653.2,783.5 L655.6,784.1 L657.8,784.5 L660.0,785.0 L662.1,785.4 L664.2,785.8 L666.4,786.2 L668.7,786.7 L671.3,787.3 L674.1,787.9 L677.0,788.5 L680.0,789.0 L682.9,789.6 L685.8,790.2 L688.5,790.7 L691.1,791.2 L693.5,791.6 L695.7,792.0 L697.5,792.4 L698.9,792.6 L701.1,781.4 L699.6,781.1 L697.8,780.7 L695.7,780.3 L693.3,779.8 L690.7,779.3 L688.0,778.8 L685.1,778.2 L682.3,777.6 L679.4,777.1 L676.6,776.5 L673.8,775.9 L671.3,775.3 L668.8,774.7 L666.5,774.3 L664.3,773.8 L662.2,773.4 L660.2,773.0 L658.2,772.6 L656.0,772.1 L653.7,771.5 L651.3,770.8 L648.5,769.9 L645.5,768.9 L642.0,767.7 L638.1,766.2 L633.7,764.6 L629.0,762.7 L623.9,760.8 L618.7,758.6 L613.3,756.5 L607.9,754.2 L602.5,751.9 L597.2,749.6 L592.0,747.4 L587.1,745.2 L582.6,743.1 L578.3,741.1 L574.1,739.0 L570.0,736.9 L565.9,734.8 L562.0,732.7 L558.2,730.7 L554.4,728.6 L550.7,726.5 L547.1,724.5 L543.6,722.4 L540.2,720.4 L536.9,718.5 L533.6,716.6 L530.5,714.7 L527.5,712.8 L524.5,710.9 L521.6,709.1 L518.8,707.3 L516.1,705.5 L513.5,703.7 L511.0,702.0 L508.5,700.2 L506.1,698.6 L503.8,696.9 L501.6,695.4 L499.6,693.9 L497.8,692.5 L496.0,691.1 L494.3,689.7 L492.6,688.3 L491.0,686.9 L489.3,685.5 L487.6,684.1 L485.8,682.6 L484.0,681.2 L482.0,679.7 L480.1,678.2 L478.1,676.7 L476.1,675.2 L474.1,673.7 L472.1,672.3 L470.1,670.8 L468.0,669.3 L466.0,667.8 L463.9,666.3 L461.9,664.8 L459.8,663.3 L457.7,661.7 L455.5,660.2 L453.4,658.6 L451.2,657.0 L449.0,655.4 L446.8,653.8 L444.6,652.2 L442.3,650.5 L440.1,648.9 L437.9,647.3 L435.6,645.6 L433.4,644.0 L431.2,642.3 L429.0,640.7 L426.8,639.0 L424.6,637.2 L422.3,635.5 L420.1,633.7 L417.8,631.9 L415.5,630.1 L413.2,628.3 L411.0,626.6 L408.7,624.9 L406.4,623.2 L404.2,621.6 L401.8,620.0 L399.4,618.4 L397.0,616.8 L394.5,615.2 L392.1,613.7 L389.7,612.2 L387.4,610.8 L385.2,609.5 L383.3,608.3 L381.6,607.2 L380.1,606.3 L378.9,605.6Z" fill="#720707"/>
<path d="M699.8,771.9 L737.6,792.9 L696.3,802.0Z" fill="#6E0404"/>
<circle cx="410.4" cy="366.5" r="36.5" fill="#F7E21E" stroke="#C6861C" stroke-width="1.8"/>
<circle cx="432.1" cy="476.9" r="35.8" fill="#F7E21E" stroke="#C6861C" stroke-width="1.8"/>
<circle cx="352.1" cy="584.8" r="35.8" fill="#F7E21E" stroke="#C6861C" stroke-width="1.8"/>
<path d="M408.6,344.6 L419.4,344.6 L419.4,394.7 L408.6,394.7 L408.6,362.7 L401.6,362.7 L401.6,354.2 Q406.5,354 408.6,348.5 Z" fill="#000"/>
<text x="0" y="0" text-anchor="middle" font-family="Liberation Sans, sans-serif" font-weight="bold" font-size="70" fill="#000" stroke="#000" stroke-width="1.4" transform="translate(436,495.3) scale(0.86,0.91)">2</text>
<text x="0" y="0" text-anchor="middle" font-family="Liberation Sans, sans-serif" font-weight="bold" font-size="70" fill="#000" stroke="#000" stroke-width="1.5" transform="translate(355.5,608.5) scale(0.86,1)">3</text>
<path d="M224.1,395.0C224.1,395.0 232.5,403.8 236.4,407.3C240.3,410.8 246.1,415.7 250.0,418.2C253.9,420.7 258.6,422.6 262.3,423.7C266.1,424.8 271.1,425.5 275.0,425.5C278.9,425.5 284.2,424.2 288.0,423.7C291.8,423.2 296.0,422.9 300.0,422.1C304.0,421.3 310.4,419.7 314.8,418.4C319.2,417.1 325.2,415.1 329.6,413.2C334.0,411.3 340.0,408.4 344.4,405.8C348.8,403.2 355.1,399.1 359.1,396.2C363.1,393.3 367.9,389.4 371.0,386.6C374.1,383.8 377.6,379.6 379.8,377.7C382.0,375.8 384.0,374.1 385.7,374.0C387.4,373.9 390.2,376.0 390.9,377.0C391.6,378.0 391.2,379.0 390.2,380.7C389.2,382.4 386.7,385.4 384.3,388.1C381.9,390.8 377.2,395.5 373.9,398.4C370.6,401.3 366.5,404.4 362.1,407.3C357.7,410.2 349.3,415.0 344.4,417.7C339.5,420.4 334.0,423.0 329.6,425.0C325.2,427.0 318.4,429.4 314.8,431.0C311.2,432.6 307.7,433.6 305.9,435.4C304.1,437.2 303.0,440.6 303.0,442.8C303.0,445.0 304.1,448.2 305.9,450.2C307.7,452.2 311.2,454.6 314.8,456.1C318.4,457.6 325.2,459.5 329.6,460.5C334.0,461.5 340.0,462.2 344.4,462.8C348.8,463.4 354.7,463.8 359.1,464.2C363.5,464.6 369.5,465.1 373.9,465.7C378.3,466.3 384.7,467.3 388.7,467.9C392.7,468.5 398.1,468.6 400.5,469.4C402.9,470.2 404.8,471.9 405.0,473.1C405.2,474.3 404.4,476.9 402.0,477.5C399.6,478.1 392.9,477.4 388.7,476.8C384.5,476.2 378.3,474.7 373.9,473.8C369.5,472.9 363.5,471.7 359.1,470.9C354.7,470.1 348.8,469.4 344.4,468.7C340.0,468.0 334.0,467.0 329.6,466.4C325.2,465.8 318.9,465.1 314.8,465.0C310.7,464.9 305.3,465.2 302.0,465.5C298.7,465.8 295.2,466.0 293.0,467.0C290.8,468.0 288.6,470.1 287.5,472.0C286.4,473.9 285.7,477.3 285.5,480.0C285.3,482.7 285.3,486.1 286.0,490.0C286.7,493.9 288.1,501.1 290.0,506.2C291.9,511.3 295.9,518.7 298.8,524.0C301.7,529.3 306.1,536.8 309.2,541.7C312.3,546.6 316.8,552.7 319.5,556.5C322.2,560.3 324.9,564.5 326.9,566.9C328.9,569.3 332.4,571.5 332.8,572.8C333.2,574.1 331.9,576.2 329.9,575.7C327.9,575.2 321.9,572.5 319.5,569.8C317.1,567.1 315.8,561.8 313.6,558.0C311.4,554.2 307.6,548.9 304.7,544.7C301.8,540.5 297.5,534.6 294.4,529.9C291.3,525.2 286.9,518.5 284.0,513.6C281.1,508.7 277.5,502.4 275.1,497.3C272.7,492.2 269.8,484.7 267.8,479.6C265.8,474.5 263.8,467.4 262.0,463.0C260.2,458.6 257.8,452.9 256.0,450.0C254.2,447.1 252.5,446.9 250.0,444.0C247.5,441.1 242.8,434.6 239.1,430.5C235.4,426.4 229.3,420.2 225.5,416.9C221.7,413.6 213.9,408.7 213.9,408.7C213.9,408.7 224.1,395.0 224.1,395.0Z" fill="#F6E01E"/>
<g clip-path="url(#nc)">
<path d="M224.1,395.0C224.1,395.0 232.5,403.8 236.4,407.3C240.3,410.8 246.1,415.7 250.0,418.2C253.9,420.7 258.6,422.6 262.3,423.7C266.1,424.8 271.1,425.5 275.0,425.5C278.9,425.5 284.2,424.2 288.0,423.7C291.8,423.2 296.0,422.9 300.0,422.1C304.0,421.3 310.4,419.7 314.8,418.4C319.2,417.1 325.2,415.1 329.6,413.2C334.0,411.3 340.0,408.4 344.4,405.8C348.8,403.2 355.1,399.1 359.1,396.2C363.1,393.3 367.9,389.4 371.0,386.6C374.1,383.8 377.6,379.6 379.8,377.7C382.0,375.8 384.0,374.1 385.7,374.0C387.4,373.9 390.2,376.0 390.9,377.0C391.6,378.0 391.2,379.0 390.2,380.7C389.2,382.4 386.7,385.4 384.3,388.1C381.9,390.8 377.2,395.5 373.9,398.4C370.6,401.3 366.5,404.4 362.1,407.3C357.7,410.2 349.3,415.0 344.4,417.7C339.5,420.4 334.0,423.0 329.6,425.0C325.2,427.0 318.4,429.4 314.8,431.0C311.2,432.6 307.7,433.6 305.9,435.4C304.1,437.2 303.0,440.6 303.0,442.8C303.0,445.0 304.1,448.2 305.9,450.2C307.7,452.2 311.2,454.6 314.8,456.1C318.4,457.6 325.2,459.5 329.6,460.5C334.0,461.5 340.0,462.2 344.4,462.8C348.8,463.4 354.7,463.8 359.1,464.2C363.5,464.6 369.5,465.1 373.9,465.7C378.3,466.3 384.7,467.3 388.7,467.9C392.7,468.5 398.1,468.6 400.5,469.4C402.9,470.2 404.8,471.9 405.0,473.1C405.2,474.3 404.4,476.9 402.0,477.5C399.6,478.1 392.9,477.4 388.7,476.8C384.5,476.2 378.3,474.7 373.9,473.8C369.5,472.9 363.5,471.7 359.1,470.9C354.7,470.1 348.8,469.4 344.4,468.7C340.0,468.0 334.0,467.0 329.6,466.4C325.2,465.8 318.9,465.1 314.8,465.0C310.7,464.9 305.3,465.2 302.0,465.5C298.7,465.8 295.2,466.0 293.0,467.0C290.8,468.0 288.6,470.1 287.5,472.0C286.4,473.9 285.7,477.3 285.5,480.0C285.3,482.7 285.3,486.1 286.0,490.0C286.7,493.9 288.1,501.1 290.0,506.2C291.9,511.3 295.9,518.7 298.8,524.0C301.7,529.3 306.1,536.8 309.2,541.7C312.3,546.6 316.8,552.7 319.5,556.5C322.2,560.3 324.9,564.5 326.9,566.9C328.9,569.3 332.4,571.5 332.8,572.8C333.2,574.1 331.9,576.2 329.9,575.7C327.9,575.2 321.9,572.5 319.5,569.8C317.1,567.1 315.8,561.8 313.6,558.0C311.4,554.2 307.6,548.9 304.7,544.7C301.8,540.5 297.5,534.6 294.4,529.9C291.3,525.2 286.9,518.5 284.0,513.6C281.1,508.7 277.5,502.4 275.1,497.3C272.7,492.2 269.8,484.7 267.8,479.6C265.8,474.5 263.8,467.4 262.0,463.0C260.2,458.6 257.8,452.9 256.0,450.0C254.2,447.1 252.5,446.9 250.0,444.0C247.5,441.1 242.8,434.6 239.1,430.5C235.4,426.4 229.3,420.2 225.5,416.9C221.7,413.6 213.9,408.7 213.9,408.7C213.9,408.7 224.1,395.0 224.1,395.0Z" fill="none" stroke="#A88A22" stroke-width="5" filter="url(#b15)" opacity="0.85"/>
<circle cx="388" cy="379" r="8" fill="#A8781E" filter="url(#b3)"/>
<circle cx="401" cy="473" r="8" fill="#A8781E" filter="url(#b3)"/>
<circle cx="329" cy="572" r="8" fill="#A8781E" filter="url(#b3)"/>
<ellipse cx="301" cy="446" rx="5" ry="8" fill="#8C6C1C" filter="url(#b3)" opacity="0.75"/>
<ellipse cx="287" cy="476" rx="4" ry="7" fill="#8C6C1C" filter="url(#b3)" opacity="0.7"/>
<path d="M240,415 L262,425 L290,424" fill="none" stroke="#9C7E20" stroke-width="4" filter="url(#b2)" opacity="0.6"/>
</g>
<path d="M224.1,395.0C224.1,395.0 232.5,403.8 236.4,407.3C240.3,410.8 246.1,415.7 250.0,418.2C253.9,420.7 258.6,422.6 262.3,423.7C266.1,424.8 271.1,425.5 275.0,425.5C278.9,425.5 284.2,424.2 288.0,423.7C291.8,423.2 296.0,422.9 300.0,422.1C304.0,421.3 310.4,419.7 314.8,418.4C319.2,417.1 325.2,415.1 329.6,413.2C334.0,411.3 340.0,408.4 344.4,405.8C348.8,403.2 355.1,399.1 359.1,396.2C363.1,393.3 367.9,389.4 371.0,386.6C374.1,383.8 377.6,379.6 379.8,377.7C382.0,375.8 384.0,374.1 385.7,374.0C387.4,373.9 390.2,376.0 390.9,377.0C391.6,378.0 391.2,379.0 390.2,380.7C389.2,382.4 386.7,385.4 384.3,388.1C381.9,390.8 377.2,395.5 373.9,398.4C370.6,401.3 366.5,404.4 362.1,407.3C357.7,410.2 349.3,415.0 344.4,417.7C339.5,420.4 334.0,423.0 329.6,425.0C325.2,427.0 318.4,429.4 314.8,431.0C311.2,432.6 307.7,433.6 305.9,435.4C304.1,437.2 303.0,440.6 303.0,442.8C303.0,445.0 304.1,448.2 305.9,450.2C307.7,452.2 311.2,454.6 314.8,456.1C318.4,457.6 325.2,459.5 329.6,460.5C334.0,461.5 340.0,462.2 344.4,462.8C348.8,463.4 354.7,463.8 359.1,464.2C363.5,464.6 369.5,465.1 373.9,465.7C378.3,466.3 384.7,467.3 388.7,467.9C392.7,468.5 398.1,468.6 400.5,469.4C402.9,470.2 404.8,471.9 405.0,473.1C405.2,474.3 404.4,476.9 402.0,477.5C399.6,478.1 392.9,477.4 388.7,476.8C384.5,476.2 378.3,474.7 373.9,473.8C369.5,472.9 363.5,471.7 359.1,470.9C354.7,470.1 348.8,469.4 344.4,468.7C340.0,468.0 334.0,467.0 329.6,466.4C325.2,465.8 318.9,465.1 314.8,465.0C310.7,464.9 305.3,465.2 302.0,465.5C298.7,465.8 295.2,466.0 293.0,467.0C290.8,468.0 288.6,470.1 287.5,472.0C286.4,473.9 285.7,477.3 285.5,480.0C285.3,482.7 285.3,486.1 286.0,490.0C286.7,493.9 288.1,501.1 290.0,506.2C291.9,511.3 295.9,518.7 298.8,524.0C301.7,529.3 306.1,536.8 309.2,541.7C312.3,546.6 316.8,552.7 319.5,556.5C322.2,560.3 324.9,564.5 326.9,566.9C328.9,569.3 332.4,571.5 332.8,572.8C333.2,574.1 331.9,576.2 329.9,575.7C327.9,575.2 321.9,572.5 319.5,569.8C317.1,567.1 315.8,561.8 313.6,558.0C311.4,554.2 307.6,548.9 304.7,544.7C301.8,540.5 297.5,534.6 294.4,529.9C291.3,525.2 286.9,518.5 284.0,513.6C281.1,508.7 277.5,502.4 275.1,497.3C272.7,492.2 269.8,484.7 267.8,479.6C265.8,474.5 263.8,467.4 262.0,463.0C260.2,458.6 257.8,452.9 256.0,450.0C254.2,447.1 252.5,446.9 250.0,444.0C247.5,441.1 242.8,434.6 239.1,430.5C235.4,426.4 229.3,420.2 225.5,416.9C221.7,413.6 213.9,408.7 213.9,408.7C213.9,408.7 224.1,395.0 224.1,395.0Z" fill="none" stroke="#9A5418" stroke-width="1.4" stroke-linejoin="round"/>
<line x1="200.1" y1="339.2" x2="279.8" y2="447.5" stroke="#6E0A0A" stroke-width="8"/>
</svg></body></html>
